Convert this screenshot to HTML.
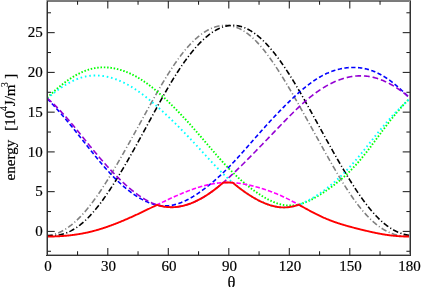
<!DOCTYPE html>
<html><head><meta charset="utf-8"><style>
html,body{margin:0;padding:0;background:#fff;width:421px;height:287px;overflow:hidden}
svg{display:block;will-change:transform}
text{font-family:"Liberation Serif",serif;font-size:15px;fill:#000;stroke:#000;stroke-width:0.2px}
</style></head><body>
<svg width="421" height="287" viewBox="0 0 421 287">
<defs><clipPath id="pa"><rect x="47.5" y="1.5" width="362.5" height="253.2"/></clipPath></defs>
<g clip-path="url(#pa)" stroke-linecap="butt" stroke-linejoin="round">
<path d="M47.20,235.84 L47.70,235.78 L48.21,235.71 L48.71,235.63 L49.22,235.55 L49.72,235.46 L50.23,235.37 L50.73,235.26 L51.23,235.15 L51.74,235.03 L52.24,234.91 L52.75,234.78 L53.25,234.64 L53.75,234.50 L54.26,234.34 L54.76,234.19 L55.27,234.02 L55.77,233.85 L56.28,233.67 L56.78,233.48 L57.28,233.28 L57.79,233.08 L58.29,232.88 L58.80,232.66 L59.30,232.44 L59.80,232.21 L60.31,231.97 L60.81,231.73 L61.32,231.48 L61.82,231.22 L62.33,230.95 L62.83,230.68 L63.33,230.40 L63.84,230.11 L64.34,229.82 L64.85,229.52 L65.35,229.21 L65.85,228.89 L66.36,228.57 L66.86,228.24 L67.37,227.90 L67.87,227.56 L68.38,227.20 L68.88,226.85 L69.38,226.48 L69.89,226.10 L70.39,225.72 L70.90,225.34 L71.40,224.94 L71.90,224.54 L72.41,224.13 L72.91,223.71 L73.42,223.29 L73.92,222.85 L74.43,222.42 L74.93,221.97 L75.43,221.52 L75.94,221.06 L76.44,220.59 L76.95,220.12 L77.45,219.64 L77.95,219.15 L78.46,218.65 L78.96,218.15 L79.47,217.64 L79.97,217.13 L80.48,216.61 L80.98,216.08 L81.48,215.54 L81.99,215.00 L82.49,214.45 L83.00,213.89 L83.50,213.33 L84.00,212.76 L84.51,212.19 L85.01,211.61 L85.52,211.02 L86.02,210.42 L86.53,209.82 L87.03,209.22 L87.53,208.60 L88.04,207.98 L88.54,207.36 L89.05,206.73 L89.55,206.09 L90.05,205.44 L90.56,204.80 L91.06,204.14 L91.57,203.48 L92.07,202.81 L92.58,202.14 L93.08,201.46 L93.58,200.78 L94.09,200.09 L94.59,199.40 L95.10,198.70 L95.60,198.00 L96.10,197.29 L96.61,196.57 L97.11,195.85 L97.62,195.13 L98.12,194.40 L98.63,193.67 L99.13,192.93 L99.63,192.19 L100.14,191.44 L100.64,190.69 L101.15,189.93 L101.65,189.17 L102.15,188.40 L102.66,187.63 L103.16,186.86 L103.67,186.08 L104.17,185.30 L104.68,184.52 L105.18,183.73 L105.68,182.93 L106.19,182.14 L106.69,181.34 L107.20,180.53 L107.70,179.72 L108.20,178.91 L108.71,178.10 L109.21,177.28 L109.72,176.46 L110.22,175.64 L110.73,174.81 L111.23,173.98 L111.73,173.15 L112.24,172.31 L112.74,171.47 L113.25,170.63 L113.75,169.78 L114.25,168.94 L114.76,168.09 L115.26,167.23 L115.77,166.38 L116.27,165.52 L116.78,164.66 L117.28,163.80 L117.78,162.93 L118.29,162.07 L118.79,161.20 L119.30,160.33 L119.80,159.45 L120.30,158.58 L120.81,157.70 L121.31,156.82 L121.82,155.94 L122.32,155.06 L122.83,154.17 L123.33,153.29 L123.83,152.40 L124.34,151.51 L124.84,150.62 L125.35,149.72 L125.85,148.83 L126.35,147.93 L126.86,147.04 L127.36,146.14 L127.87,145.24 L128.37,144.33 L128.88,143.43 L129.38,142.53 L129.88,141.62 L130.39,140.72 L130.89,139.81 L131.40,138.90 L131.90,137.99 L132.40,137.08 L132.91,136.17 L133.41,135.26 L133.92,134.35 L134.42,133.43 L134.93,132.52 L135.43,131.60 L135.93,130.69 L136.44,129.77 L136.94,128.86 L137.45,127.94 L137.95,127.02 L138.45,126.11 L138.96,125.19 L139.46,124.27 L139.97,123.35 L140.47,122.43 L140.98,121.52 L141.48,120.60 L141.98,119.68 L142.49,118.76 L142.99,117.84 L143.50,116.93 L144.00,116.01 L144.50,115.09 L145.01,114.18 L145.51,113.26 L146.02,112.35 L146.52,111.43 L147.03,110.52 L147.53,109.60 L148.03,108.69 L148.54,107.78 L149.04,106.87 L149.55,105.96 L150.05,105.05 L150.55,104.15 L151.06,103.24 L151.56,102.34 L152.07,101.44 L152.57,100.54 L153.08,99.64 L153.58,98.74 L154.08,97.85 L154.59,96.95 L155.09,96.06 L155.60,95.17 L156.10,94.29 L156.60,93.40 L157.11,92.52 L157.61,91.64 L158.12,90.76 L158.62,89.89 L159.13,89.02 L159.63,88.15 L160.13,87.28 L160.64,86.42 L161.14,85.56 L161.65,84.71 L162.15,83.85 L162.65,83.00 L163.16,82.16 L163.66,81.32 L164.17,80.48 L164.67,79.64 L165.18,78.81 L165.68,77.99 L166.18,77.16 L166.69,76.34 L167.19,75.53 L167.70,74.72 L168.20,73.92 L168.70,73.11 L169.21,72.32 L169.71,71.53 L170.22,70.74 L170.72,69.96 L171.23,69.18 L171.73,68.41 L172.23,67.64 L172.74,66.88 L173.24,66.13 L173.75,65.38 L174.25,64.63 L174.75,63.89 L175.26,63.16 L175.76,62.43 L176.27,61.71 L176.77,60.99 L177.28,60.28 L177.78,59.58 L178.28,58.88 L178.79,58.19 L179.29,57.50 L179.80,56.82 L180.30,56.15 L180.80,55.48 L181.31,54.82 L181.81,54.17 L182.32,53.52 L182.82,52.88 L183.33,52.25 L183.83,51.62 L184.33,51.00 L184.84,50.39 L185.34,49.78 L185.85,49.18 L186.35,48.59 L186.85,48.00 L187.36,47.42 L187.86,46.85 L188.37,46.29 L188.87,45.73 L189.38,45.18 L189.88,44.63 L190.38,44.10 L190.89,43.57 L191.39,43.05 L191.90,42.53 L192.40,42.03 L192.90,41.53 L193.41,41.03 L193.91,40.55 L194.42,40.07 L194.92,39.60 L195.43,39.14 L195.93,38.68 L196.43,38.24 L196.94,37.80 L197.44,37.36 L197.95,36.94 L198.45,36.52 L198.95,36.11 L199.46,35.71 L199.96,35.31 L200.47,34.92 L200.97,34.54 L201.48,34.17 L201.98,33.80 L202.48,33.45 L202.99,33.10 L203.49,32.76 L204.00,32.42 L204.50,32.09 L205.00,31.77 L205.51,31.46 L206.01,31.16 L206.52,30.86 L207.02,30.57 L207.53,30.29 L208.03,30.02 L208.53,29.75 L209.04,29.49 L209.54,29.24 L210.05,29.00 L210.55,28.76 L211.05,28.53 L211.56,28.31 L212.06,28.10 L212.57,27.90 L213.07,27.70 L213.58,27.51 L214.08,27.33 L214.58,27.15 L215.09,26.99 L215.59,26.83 L216.10,26.68 L216.60,26.54 L217.10,26.40 L217.61,26.28 L218.11,26.16 L218.62,26.05 L219.12,25.94 L219.63,25.85 L220.13,25.76 L220.63,25.68 L221.14,25.61 L221.64,25.55 L222.15,25.49 L222.65,25.45 L223.15,25.41 L223.66,25.38 L224.16,25.35 L224.67,25.34 L225.17,25.33 L225.68,25.34 L226.18,25.35 L226.68,25.36 L227.19,25.39 L227.69,25.43 L228.20,25.47 L228.70,25.52 L229.20,25.58 L229.71,25.65 L230.21,25.73 L230.72,25.81 L231.22,25.91 L231.73,26.01 L232.23,26.12 L232.73,26.24 L233.24,26.37 L233.74,26.50 L234.25,26.65 L234.75,26.80 L235.25,26.96 L235.76,27.13 L236.26,27.31 L236.77,27.50 L237.27,27.70 L237.78,27.90 L238.28,28.12 L238.78,28.34 L239.29,28.57 L239.79,28.81 L240.30,29.06 L240.80,29.32 L241.30,29.59 L241.81,29.86 L242.31,30.15 L242.82,30.44 L243.32,30.74 L243.83,31.05 L244.33,31.37 L244.83,31.69 L245.34,32.03 L245.84,32.38 L246.35,32.73 L246.85,33.09 L247.35,33.46 L247.86,33.84 L248.36,34.23 L248.87,34.62 L249.37,35.03 L249.88,35.44 L250.38,35.86 L250.88,36.29 L251.39,36.73 L251.89,37.17 L252.40,37.63 L252.90,38.09 L253.40,38.56 L253.91,39.04 L254.41,39.53 L254.92,40.02 L255.42,40.53 L255.93,41.04 L256.43,41.55 L256.93,42.08 L257.44,42.61 L257.94,43.16 L258.45,43.71 L258.95,44.26 L259.45,44.83 L259.96,45.40 L260.46,45.98 L260.97,46.56 L261.47,47.16 L261.98,47.76 L262.48,48.36 L262.98,48.98 L263.49,49.60 L263.99,50.23 L264.50,50.86 L265.00,51.50 L265.50,52.15 L266.01,52.80 L266.51,53.46 L267.02,54.13 L267.52,54.80 L268.03,55.48 L268.53,56.16 L269.03,56.85 L269.54,57.55 L270.04,58.25 L270.55,58.96 L271.05,59.67 L271.55,60.39 L272.06,61.11 L272.56,61.84 L273.07,62.57 L273.57,63.31 L274.08,64.06 L274.58,64.81 L275.08,65.56 L275.59,66.32 L276.09,67.08 L276.60,67.85 L277.10,68.62 L277.60,69.39 L278.11,70.17 L278.61,70.96 L279.12,71.75 L279.62,72.54 L280.13,73.34 L280.63,74.14 L281.13,74.94 L281.64,75.75 L282.14,76.56 L282.65,77.37 L283.15,78.19 L283.65,79.01 L284.16,79.83 L284.66,80.66 L285.17,81.49 L285.67,82.32 L286.18,83.16 L286.68,84.00 L287.18,84.84 L287.69,85.69 L288.19,86.53 L288.70,87.38 L289.20,88.24 L289.70,89.09 L290.21,89.95 L290.71,90.81 L291.22,91.67 L291.72,92.53 L292.23,93.40 L292.73,94.27 L293.23,95.14 L293.74,96.01 L294.24,96.88 L294.75,97.76 L295.25,98.64 L295.75,99.52 L296.26,100.40 L296.76,101.28 L297.27,102.16 L297.77,103.05 L298.28,103.94 L298.78,104.83 L299.28,105.72 L299.79,106.61 L300.29,107.50 L300.80,108.39 L301.30,109.29 L301.80,110.19 L302.31,111.08 L302.81,111.98 L303.32,112.88 L303.82,113.78 L304.33,114.69 L304.83,115.59 L305.33,116.49 L305.84,117.40 L306.34,118.30 L306.85,119.21 L307.35,120.12 L307.85,121.02 L308.36,121.93 L308.86,122.84 L309.37,123.75 L309.87,124.66 L310.38,125.57 L310.88,126.48 L311.38,127.39 L311.89,128.31 L312.39,129.22 L312.90,130.13 L313.40,131.04 L313.90,131.96 L314.41,132.87 L314.91,133.78 L315.42,134.69 L315.92,135.61 L316.43,136.52 L316.93,137.43 L317.43,138.35 L317.94,139.26 L318.44,140.17 L318.95,141.08 L319.45,141.99 L319.95,142.91 L320.46,143.82 L320.96,144.73 L321.47,145.64 L321.97,146.54 L322.48,147.45 L322.98,148.36 L323.48,149.27 L323.99,150.17 L324.49,151.07 L325.00,151.98 L325.50,152.88 L326.00,153.78 L326.51,154.68 L327.01,155.58 L327.52,156.48 L328.02,157.37 L328.53,158.27 L329.03,159.16 L329.53,160.05 L330.04,160.94 L330.54,161.82 L331.05,162.71 L331.55,163.59 L332.05,164.47 L332.56,165.35 L333.06,166.23 L333.57,167.10 L334.07,167.97 L334.58,168.84 L335.08,169.71 L335.58,170.57 L336.09,171.43 L336.59,172.29 L337.10,173.15 L337.60,174.00 L338.10,174.85 L338.61,175.69 L339.11,176.54 L339.62,177.38 L340.12,178.21 L340.63,179.04 L341.13,179.87 L341.63,180.70 L342.14,181.52 L342.64,182.33 L343.15,183.15 L343.65,183.96 L344.15,184.76 L344.66,185.56 L345.16,186.36 L345.67,187.15 L346.17,187.94 L346.68,188.72 L347.18,189.50 L347.68,190.27 L348.19,191.04 L348.69,191.81 L349.20,192.56 L349.70,193.32 L350.20,194.07 L350.71,194.81 L351.21,195.55 L351.72,196.28 L352.22,197.01 L352.73,197.73 L353.23,198.44 L353.73,199.16 L354.24,199.86 L354.74,200.56 L355.25,201.25 L355.75,201.94 L356.25,202.62 L356.76,203.30 L357.26,203.96 L357.77,204.63 L358.27,205.28 L358.78,205.93 L359.28,206.58 L359.78,207.22 L360.29,207.85 L360.79,208.47 L361.30,209.09 L361.80,209.70 L362.30,210.31 L362.81,210.91 L363.31,211.50 L363.82,212.08 L364.32,212.66 L364.83,213.23 L365.33,213.80 L365.83,214.36 L366.34,214.91 L366.84,215.45 L367.35,215.99 L367.85,216.52 L368.35,217.04 L368.86,217.56 L369.36,218.06 L369.87,218.57 L370.37,219.06 L370.88,219.55 L371.38,220.03 L371.88,220.50 L372.39,220.97 L372.89,221.43 L373.40,221.88 L373.90,222.32 L374.40,222.76 L374.91,223.19 L375.41,223.61 L375.92,224.03 L376.42,224.44 L376.93,224.84 L377.43,225.23 L377.93,225.62 L378.44,226.00 L378.94,226.37 L379.45,226.74 L379.95,227.10 L380.45,227.45 L380.96,227.79 L381.46,228.13 L381.97,228.46 L382.47,228.78 L382.98,229.10 L383.48,229.41 L383.98,229.71 L384.49,230.00 L384.99,230.29 L385.50,230.57 L386.00,230.84 L386.50,231.11 L387.01,231.37 L387.51,231.62 L388.02,231.86 L388.52,232.10 L389.03,232.33 L389.53,232.55 L390.03,232.77 L390.54,232.98 L391.04,233.18 L391.55,233.38 L392.05,233.57 L392.55,233.75 L393.06,233.93 L393.56,234.09 L394.07,234.26 L394.57,234.41 L395.08,234.56 L395.58,234.70 L396.08,234.83 L396.59,234.96 L397.09,235.08 L397.60,235.20 L398.10,235.30 L398.60,235.40 L399.11,235.50 L399.61,235.58 L400.12,235.66 L400.62,235.74 L401.13,235.80 L401.63,235.86 L402.13,235.91 L402.64,235.96 L403.14,236.00 L403.65,236.03 L404.15,236.06 L404.65,236.08 L405.16,236.09 L405.66,236.10 L406.17,236.09 L406.67,236.09 L407.18,236.07 L407.68,236.05 L408.18,236.02 L408.69,235.99 L409.19,235.95 L409.70,235.90 L410.20,235.84" stroke="#808080" stroke-width="1.6" stroke-dasharray="5.6 2.4 1.1 2.3" fill="none"/>
<path d="M47.20,235.41 L47.70,235.47 L48.21,235.52 L48.71,235.56 L49.22,235.59 L49.72,235.62 L50.23,235.64 L50.73,235.65 L51.23,235.66 L51.74,235.67 L52.24,235.66 L52.75,235.65 L53.25,235.63 L53.75,235.61 L54.26,235.58 L54.76,235.55 L55.27,235.50 L55.77,235.46 L56.28,235.40 L56.78,235.34 L57.28,235.27 L57.79,235.20 L58.29,235.11 L58.80,235.03 L59.30,234.93 L59.80,234.83 L60.31,234.72 L60.81,234.61 L61.32,234.49 L61.82,234.36 L62.33,234.22 L62.83,234.08 L63.33,233.93 L63.84,233.78 L64.34,233.62 L64.85,233.45 L65.35,233.27 L65.85,233.09 L66.36,232.90 L66.86,232.70 L67.37,232.50 L67.87,232.29 L68.38,232.07 L68.88,231.84 L69.38,231.61 L69.89,231.37 L70.39,231.12 L70.90,230.87 L71.40,230.61 L71.90,230.34 L72.41,230.06 L72.91,229.78 L73.42,229.48 L73.92,229.18 L74.43,228.88 L74.93,228.56 L75.43,228.24 L75.94,227.91 L76.44,227.58 L76.95,227.23 L77.45,226.88 L77.95,226.52 L78.46,226.16 L78.96,225.78 L79.47,225.40 L79.97,225.01 L80.48,224.62 L80.98,224.21 L81.48,223.80 L81.99,223.38 L82.49,222.96 L83.00,222.52 L83.50,222.08 L84.00,221.63 L84.51,221.17 L85.01,220.71 L85.52,220.24 L86.02,219.76 L86.53,219.28 L87.03,218.78 L87.53,218.28 L88.04,217.78 L88.54,217.26 L89.05,216.74 L89.55,216.21 L90.05,215.67 L90.56,215.13 L91.06,214.58 L91.57,214.03 L92.07,213.46 L92.58,212.89 L93.08,212.32 L93.58,211.73 L94.09,211.14 L94.59,210.55 L95.10,209.94 L95.60,209.33 L96.10,208.72 L96.61,208.10 L97.11,207.47 L97.62,206.83 L98.12,206.19 L98.63,205.55 L99.13,204.89 L99.63,204.24 L100.14,203.57 L100.64,202.90 L101.15,202.23 L101.65,201.55 L102.15,200.86 L102.66,200.17 L103.16,199.47 L103.67,198.77 L104.17,198.06 L104.68,197.35 L105.18,196.63 L105.68,195.91 L106.19,195.18 L106.69,194.45 L107.20,193.71 L107.70,192.97 L108.20,192.23 L108.71,191.48 L109.21,190.72 L109.72,189.96 L110.22,189.20 L110.73,188.43 L111.23,187.66 L111.73,186.88 L112.24,186.10 L112.74,185.32 L113.25,184.53 L113.75,183.74 L114.25,182.94 L114.76,182.14 L115.26,181.34 L115.77,180.53 L116.27,179.72 L116.78,178.91 L117.28,178.09 L117.78,177.27 L118.29,176.44 L118.79,175.62 L119.30,174.79 L119.80,173.95 L120.30,173.12 L120.81,172.28 L121.31,171.43 L121.82,170.59 L122.32,169.74 L122.83,168.89 L123.33,168.03 L123.83,167.18 L124.34,166.32 L124.84,165.45 L125.35,164.59 L125.85,163.72 L126.35,162.85 L126.86,161.98 L127.36,161.10 L127.87,160.23 L128.37,159.35 L128.88,158.46 L129.38,157.58 L129.88,156.69 L130.39,155.81 L130.89,154.91 L131.40,154.02 L131.90,153.13 L132.40,152.23 L132.91,151.33 L133.41,150.43 L133.92,149.53 L134.42,148.62 L134.93,147.72 L135.43,146.81 L135.93,145.90 L136.44,144.99 L136.94,144.08 L137.45,143.16 L137.95,142.25 L138.45,141.33 L138.96,140.41 L139.46,139.49 L139.97,138.57 L140.47,137.65 L140.98,136.73 L141.48,135.80 L141.98,134.88 L142.49,133.95 L142.99,133.03 L143.50,132.10 L144.00,131.17 L144.50,130.24 L145.01,129.31 L145.51,128.38 L146.02,127.45 L146.52,126.52 L147.03,125.59 L147.53,124.66 L148.03,123.73 L148.54,122.80 L149.04,121.87 L149.55,120.94 L150.05,120.00 L150.55,119.07 L151.06,118.14 L151.56,117.21 L152.07,116.29 L152.57,115.36 L153.08,114.43 L153.58,113.50 L154.08,112.58 L154.59,111.65 L155.09,110.73 L155.60,109.80 L156.10,108.88 L156.60,107.96 L157.11,107.04 L157.61,106.13 L158.12,105.21 L158.62,104.30 L159.13,103.39 L159.63,102.47 L160.13,101.57 L160.64,100.66 L161.14,99.76 L161.65,98.86 L162.15,97.96 L162.65,97.06 L163.16,96.16 L163.66,95.27 L164.17,94.38 L164.67,93.50 L165.18,92.62 L165.68,91.74 L166.18,90.86 L166.69,89.98 L167.19,89.11 L167.70,88.25 L168.20,87.38 L168.70,86.52 L169.21,85.67 L169.71,84.81 L170.22,83.96 L170.72,83.12 L171.23,82.28 L171.73,81.44 L172.23,80.61 L172.74,79.78 L173.24,78.95 L173.75,78.13 L174.25,77.32 L174.75,76.51 L175.26,75.70 L175.76,74.90 L176.27,74.10 L176.77,73.31 L177.28,72.52 L177.78,71.74 L178.28,70.96 L178.79,70.19 L179.29,69.42 L179.80,68.65 L180.30,67.90 L180.80,67.14 L181.31,66.40 L181.81,65.66 L182.32,64.92 L182.82,64.19 L183.33,63.46 L183.83,62.74 L184.33,62.03 L184.84,61.32 L185.34,60.62 L185.85,59.92 L186.35,59.23 L186.85,58.54 L187.36,57.86 L187.86,57.19 L188.37,56.52 L188.87,55.86 L189.38,55.20 L189.88,54.55 L190.38,53.91 L190.89,53.27 L191.39,52.64 L191.90,52.02 L192.40,51.40 L192.90,50.79 L193.41,50.18 L193.91,49.58 L194.42,48.99 L194.92,48.40 L195.43,47.82 L195.93,47.25 L196.43,46.68 L196.94,46.12 L197.44,45.57 L197.95,45.02 L198.45,44.48 L198.95,43.94 L199.46,43.42 L199.96,42.90 L200.47,42.38 L200.97,41.88 L201.48,41.38 L201.98,40.88 L202.48,40.40 L202.99,39.92 L203.49,39.45 L204.00,38.98 L204.50,38.53 L205.00,38.07 L205.51,37.63 L206.01,37.20 L206.52,36.77 L207.02,36.35 L207.53,35.93 L208.03,35.53 L208.53,35.13 L209.04,34.73 L209.54,34.35 L210.05,33.97 L210.55,33.60 L211.05,33.24 L211.56,32.89 L212.06,32.54 L212.57,32.20 L213.07,31.87 L213.58,31.55 L214.08,31.23 L214.58,30.93 L215.09,30.63 L215.59,30.34 L216.10,30.05 L216.60,29.78 L217.10,29.51 L217.61,29.25 L218.11,29.00 L218.62,28.75 L219.12,28.52 L219.63,28.29 L220.13,28.07 L220.63,27.86 L221.14,27.66 L221.64,27.47 L222.15,27.28 L222.65,27.11 L223.15,26.94 L223.66,26.78 L224.16,26.63 L224.67,26.48 L225.17,26.35 L225.68,26.22 L226.18,26.10 L226.68,26.00 L227.19,25.90 L227.69,25.80 L228.20,25.72 L228.70,25.65 L229.20,25.58 L229.71,25.52 L230.21,25.48 L230.72,25.44 L231.22,25.40 L231.73,25.38 L232.23,25.37 L232.73,25.36 L233.24,25.37 L233.74,25.38 L234.25,25.40 L234.75,25.43 L235.25,25.47 L235.76,25.52 L236.26,25.58 L236.77,25.64 L237.27,25.71 L237.78,25.80 L238.28,25.89 L238.78,25.99 L239.29,26.10 L239.79,26.21 L240.30,26.34 L240.80,26.47 L241.30,26.62 L241.81,26.77 L242.31,26.93 L242.82,27.10 L243.32,27.27 L243.83,27.46 L244.33,27.65 L244.83,27.86 L245.34,28.07 L245.84,28.29 L246.35,28.51 L246.85,28.75 L247.35,28.99 L247.86,29.25 L248.36,29.51 L248.87,29.78 L249.37,30.05 L249.88,30.34 L250.38,30.63 L250.88,30.93 L251.39,31.24 L251.89,31.56 L252.40,31.89 L252.90,32.22 L253.40,32.56 L253.91,32.91 L254.41,33.27 L254.92,33.63 L255.42,34.00 L255.93,34.38 L256.43,34.77 L256.93,35.17 L257.44,35.57 L257.94,35.98 L258.45,36.40 L258.95,36.82 L259.45,37.26 L259.96,37.70 L260.46,38.14 L260.97,38.60 L261.47,39.06 L261.98,39.53 L262.48,40.00 L262.98,40.49 L263.49,40.98 L263.99,41.47 L264.50,41.98 L265.00,42.49 L265.50,43.01 L266.01,43.53 L266.51,44.06 L267.02,44.60 L267.52,45.15 L268.03,45.70 L268.53,46.26 L269.03,46.82 L269.54,47.40 L270.04,47.97 L270.55,48.56 L271.05,49.15 L271.55,49.75 L272.06,50.35 L272.56,50.96 L273.07,51.58 L273.57,52.20 L274.08,52.83 L274.58,53.46 L275.08,54.10 L275.59,54.75 L276.09,55.40 L276.60,56.06 L277.10,56.72 L277.60,57.40 L278.11,58.07 L278.61,58.75 L279.12,59.44 L279.62,60.13 L280.13,60.83 L280.63,61.54 L281.13,62.25 L281.64,62.96 L282.14,63.68 L282.65,64.41 L283.15,65.14 L283.65,65.87 L284.16,66.62 L284.66,67.36 L285.17,68.11 L285.67,68.87 L286.18,69.63 L286.68,70.40 L287.18,71.17 L287.69,71.94 L288.19,72.72 L288.70,73.51 L289.20,74.30 L289.70,75.09 L290.21,75.89 L290.71,76.69 L291.22,77.50 L291.72,78.31 L292.23,79.12 L292.73,79.94 L293.23,80.76 L293.74,81.59 L294.24,82.42 L294.75,83.25 L295.25,84.09 L295.75,84.93 L296.26,85.77 L296.76,86.62 L297.27,87.47 L297.77,88.33 L298.28,89.19 L298.78,90.05 L299.28,90.91 L299.79,91.78 L300.29,92.65 L300.80,93.52 L301.30,94.39 L301.80,95.27 L302.31,96.15 L302.81,97.03 L303.32,97.92 L303.82,98.80 L304.33,99.69 L304.83,100.59 L305.33,101.48 L305.84,102.37 L306.34,103.27 L306.85,104.17 L307.35,105.07 L307.85,105.97 L308.36,106.88 L308.86,107.78 L309.37,108.69 L309.87,109.59 L310.38,110.50 L310.88,111.41 L311.38,112.32 L311.89,113.24 L312.39,114.15 L312.90,115.06 L313.40,115.98 L313.90,116.89 L314.41,117.81 L314.91,118.72 L315.42,119.64 L315.92,120.56 L316.43,121.47 L316.93,122.39 L317.43,123.31 L317.94,124.23 L318.44,125.15 L318.95,126.06 L319.45,126.98 L319.95,127.90 L320.46,128.82 L320.96,129.73 L321.47,130.65 L321.97,131.57 L322.48,132.48 L322.98,133.40 L323.48,134.31 L323.99,135.23 L324.49,136.14 L325.00,137.05 L325.50,137.97 L326.00,138.88 L326.51,139.79 L327.01,140.70 L327.52,141.60 L328.02,142.51 L328.53,143.42 L329.03,144.32 L329.53,145.23 L330.04,146.13 L330.54,147.03 L331.05,147.93 L331.55,148.83 L332.05,149.73 L332.56,150.62 L333.06,151.52 L333.57,152.41 L334.07,153.30 L334.58,154.19 L335.08,155.08 L335.58,155.96 L336.09,156.85 L336.59,157.73 L337.10,158.61 L337.60,159.49 L338.10,160.36 L338.61,161.24 L339.11,162.11 L339.62,162.98 L340.12,163.85 L340.63,164.71 L341.13,165.57 L341.63,166.44 L342.14,167.29 L342.64,168.15 L343.15,169.00 L343.65,169.85 L344.15,170.70 L344.66,171.55 L345.16,172.39 L345.67,173.23 L346.17,174.07 L346.68,174.90 L347.18,175.73 L347.68,176.56 L348.19,177.38 L348.69,178.20 L349.20,179.02 L349.70,179.84 L350.20,180.65 L350.71,181.46 L351.21,182.26 L351.72,183.06 L352.22,183.86 L352.73,184.65 L353.23,185.44 L353.73,186.22 L354.24,187.01 L354.74,187.78 L355.25,188.56 L355.75,189.33 L356.25,190.09 L356.76,190.85 L357.26,191.61 L357.77,192.36 L358.27,193.10 L358.78,193.85 L359.28,194.58 L359.78,195.32 L360.29,196.04 L360.79,196.77 L361.30,197.48 L361.80,198.19 L362.30,198.90 L362.81,199.60 L363.31,200.30 L363.82,200.99 L364.32,201.67 L364.83,202.35 L365.33,203.03 L365.83,203.70 L366.34,204.36 L366.84,205.01 L367.35,205.66 L367.85,206.31 L368.35,206.95 L368.86,207.58 L369.36,208.20 L369.87,208.82 L370.37,209.43 L370.88,210.04 L371.38,210.64 L371.88,211.23 L372.39,211.82 L372.89,212.40 L373.40,212.97 L373.90,213.54 L374.40,214.09 L374.91,214.65 L375.41,215.19 L375.92,215.73 L376.42,216.26 L376.93,216.79 L377.43,217.30 L377.93,217.81 L378.44,218.31 L378.94,218.81 L379.45,219.30 L379.95,219.78 L380.45,220.25 L380.96,220.72 L381.46,221.18 L381.97,221.63 L382.47,222.07 L382.98,222.51 L383.48,222.94 L383.98,223.36 L384.49,223.77 L384.99,224.18 L385.50,224.58 L386.00,224.97 L386.50,225.36 L387.01,225.73 L387.51,226.10 L388.02,226.46 L388.52,226.82 L389.03,227.17 L389.53,227.51 L390.03,227.84 L390.54,228.17 L391.04,228.48 L391.55,228.79 L392.05,229.10 L392.55,229.39 L393.06,229.68 L393.56,229.97 L394.07,230.24 L394.57,230.51 L395.08,230.77 L395.58,231.02 L396.08,231.27 L396.59,231.51 L397.09,231.74 L397.60,231.97 L398.10,232.18 L398.60,232.40 L399.11,232.60 L399.61,232.80 L400.12,232.99 L400.62,233.17 L401.13,233.35 L401.63,233.52 L402.13,233.68 L402.64,233.84 L403.14,233.99 L403.65,234.14 L404.15,234.27 L404.65,234.40 L405.16,234.53 L405.66,234.65 L406.17,234.76 L406.67,234.86 L407.18,234.96 L407.68,235.05 L408.18,235.14 L408.69,235.22 L409.19,235.29 L409.70,235.36 L410.20,235.41" stroke="#000" stroke-width="1.6" stroke-dasharray="5.6 2.4 1.1 2.3" fill="none"/>
<path d="M47.20,97.83 L47.70,97.33 L48.21,96.83 L48.71,96.34 L49.22,95.85 L49.72,95.37 L50.23,94.89 L50.73,94.41 L51.23,93.93 L51.74,93.46 L52.24,93.00 L52.75,92.53 L53.25,92.07 L53.75,91.62 L54.26,91.16 L54.76,90.72 L55.27,90.27 L55.77,89.83 L56.28,89.39 L56.78,88.95 L57.28,88.52 L57.79,88.09 L58.29,87.67 L58.80,87.25 L59.30,86.83 L59.80,86.41 L60.31,86.00 L60.81,85.60 L61.32,85.19 L61.82,84.79 L62.33,84.40 L62.83,84.00 L63.33,83.62 L63.84,83.23 L64.34,82.85 L64.85,82.47 L65.35,82.10 L65.85,81.73 L66.36,81.36 L66.86,81.00 L67.37,80.64 L67.87,80.28 L68.38,79.93 L68.88,79.59 L69.38,79.25 L69.89,78.91 L70.39,78.57 L70.90,78.24 L71.40,77.92 L71.90,77.60 L72.41,77.28 L72.91,76.97 L73.42,76.66 L73.92,76.35 L74.43,76.05 L74.93,75.76 L75.43,75.47 L75.94,75.18 L76.44,74.90 L76.95,74.63 L77.45,74.35 L77.95,74.09 L78.46,73.82 L78.96,73.57 L79.47,73.32 L79.97,73.07 L80.48,72.83 L80.98,72.59 L81.48,72.36 L81.99,72.13 L82.49,71.91 L83.00,71.69 L83.50,71.48 L84.00,71.27 L84.51,71.07 L85.01,70.87 L85.52,70.68 L86.02,70.50 L86.53,70.32 L87.03,70.14 L87.53,69.97 L88.04,69.81 L88.54,69.65 L89.05,69.50 L89.55,69.35 L90.05,69.20 L90.56,69.07 L91.06,68.93 L91.57,68.81 L92.07,68.69 L92.58,68.57 L93.08,68.46 L93.58,68.35 L94.09,68.25 L94.59,68.16 L95.10,68.07 L95.60,67.98 L96.10,67.91 L96.61,67.83 L97.11,67.76 L97.62,67.70 L98.12,67.64 L98.63,67.59 L99.13,67.54 L99.63,67.50 L100.14,67.46 L100.64,67.43 L101.15,67.40 L101.65,67.38 L102.15,67.36 L102.66,67.35 L103.16,67.34 L103.67,67.34 L104.17,67.34 L104.68,67.35 L105.18,67.36 L105.68,67.38 L106.19,67.40 L106.69,67.43 L107.20,67.46 L107.70,67.50 L108.20,67.54 L108.71,67.58 L109.21,67.63 L109.72,67.69 L110.22,67.75 L110.73,67.81 L111.23,67.88 L111.73,67.95 L112.24,68.03 L112.74,68.11 L113.25,68.20 L113.75,68.29 L114.25,68.38 L114.76,68.48 L115.26,68.59 L115.77,68.70 L116.27,68.81 L116.78,68.93 L117.28,69.05 L117.78,69.17 L118.29,69.30 L118.79,69.44 L119.30,69.57 L119.80,69.72 L120.30,69.86 L120.81,70.01 L121.31,70.17 L121.82,70.33 L122.32,70.49 L122.83,70.66 L123.33,70.83 L123.83,71.00 L124.34,71.18 L124.84,71.37 L125.35,71.56 L125.85,71.75 L126.35,71.95 L126.86,72.15 L127.36,72.35 L127.87,72.56 L128.37,72.77 L128.88,72.99 L129.38,73.21 L129.88,73.44 L130.39,73.67 L130.89,73.90 L131.40,74.14 L131.90,74.38 L132.40,74.63 L132.91,74.88 L133.41,75.13 L133.92,75.39 L134.42,75.65 L134.93,75.92 L135.43,76.19 L135.93,76.46 L136.44,76.74 L136.94,77.03 L137.45,77.31 L137.95,77.61 L138.45,77.90 L138.96,78.20 L139.46,78.50 L139.97,78.81 L140.47,79.12 L140.98,79.44 L141.48,79.76 L141.98,80.08 L142.49,80.41 L142.99,80.74 L143.50,81.07 L144.00,81.41 L144.50,81.76 L145.01,82.10 L145.51,82.45 L146.02,82.81 L146.52,83.17 L147.03,83.53 L147.53,83.89 L148.03,84.26 L148.54,84.64 L149.04,85.01 L149.55,85.39 L150.05,85.78 L150.55,86.16 L151.06,86.55 L151.56,86.95 L152.07,87.34 L152.57,87.74 L153.08,88.15 L153.58,88.56 L154.08,88.97 L154.59,89.38 L155.09,89.80 L155.60,90.22 L156.10,90.64 L156.60,91.07 L157.11,91.49 L157.61,91.93 L158.12,92.36 L158.62,92.80 L159.13,93.24 L159.63,93.68 L160.13,94.13 L160.64,94.58 L161.14,95.03 L161.65,95.48 L162.15,95.94 L162.65,96.40 L163.16,96.86 L163.66,97.32 L164.17,97.79 L164.67,98.26 L165.18,98.73 L165.68,99.20 L166.18,99.68 L166.69,100.16 L167.19,100.64 L167.70,101.12 L168.20,101.60 L168.70,102.09 L169.21,102.58 L169.71,103.07 L170.22,103.56 L170.72,104.06 L171.23,104.55 L171.73,105.05 L172.23,105.55 L172.74,106.06 L173.24,106.56 L173.75,107.07 L174.25,107.58 L174.75,108.09 L175.26,108.60 L175.76,109.11 L176.27,109.63 L176.77,110.15 L177.28,110.66 L177.78,111.19 L178.28,111.71 L178.79,112.23 L179.29,112.76 L179.80,113.29 L180.30,113.82 L180.80,114.35 L181.31,114.88 L181.81,115.42 L182.32,115.95 L182.82,116.49 L183.33,117.03 L183.83,117.57 L184.33,118.11 L184.84,118.66 L185.34,119.21 L185.85,119.75 L186.35,120.30 L186.85,120.85 L187.36,121.41 L187.86,121.96 L188.37,122.52 L188.87,123.07 L189.38,123.63 L189.88,124.19 L190.38,124.75 L190.89,125.32 L191.39,125.88 L191.90,126.45 L192.40,127.02 L192.90,127.59 L193.41,128.16 L193.91,128.73 L194.42,129.30 L194.92,129.88 L195.43,130.45 L195.93,131.03 L196.43,131.61 L196.94,132.18 L197.44,132.77 L197.95,133.35 L198.45,133.93 L198.95,134.51 L199.46,135.10 L199.96,135.68 L200.47,136.27 L200.97,136.85 L201.48,137.44 L201.98,138.03 L202.48,138.62 L202.99,139.21 L203.49,139.80 L204.00,140.39 L204.50,140.98 L205.00,141.57 L205.51,142.16 L206.01,142.75 L206.52,143.34 L207.02,143.94 L207.53,144.53 L208.03,145.12 L208.53,145.71 L209.04,146.30 L209.54,146.89 L210.05,147.48 L210.55,148.07 L211.05,148.66 L211.56,149.25 L212.06,149.84 L212.57,150.43 L213.07,151.01 L213.58,151.60 L214.08,152.18 L214.58,152.77 L215.09,153.35 L215.59,153.93 L216.10,154.51 L216.60,155.09 L217.10,155.66 L217.61,156.24 L218.11,156.81 L218.62,157.38 L219.12,157.95 L219.63,158.52 L220.13,159.09 L220.63,159.65 L221.14,160.21 L221.64,160.77 L222.15,161.33 L222.65,161.88 L223.15,162.44 L223.66,162.99 L224.16,163.53 L224.67,164.08 L225.17,164.62 L225.68,165.16 L226.18,165.70 L226.68,166.23 L227.19,166.77 L227.69,167.30 L228.20,167.82 L228.70,168.34 L229.20,168.87 L229.71,169.38 L230.21,169.90 L230.72,170.41 L231.22,170.92 L231.73,171.42 L232.23,171.92 L232.73,172.42 L233.24,172.92 L233.74,173.41 L234.25,173.90 L234.75,174.39 L235.25,174.87 L235.76,175.35 L236.26,175.83 L236.77,176.30 L237.27,176.77 L237.78,177.24 L238.28,177.70 L238.78,178.16 L239.29,178.62 L239.79,179.07 L240.30,179.52 L240.80,179.97 L241.30,180.41 L241.81,180.85 L242.31,181.29 L242.82,181.73 L243.32,182.16 L243.83,182.59 L244.33,183.01 L244.83,183.43 L245.34,183.85 L245.84,184.27 L246.35,184.68 L246.85,185.09 L247.35,185.50 L247.86,185.90 L248.36,186.30 L248.87,186.70 L249.37,187.09 L249.88,187.48 L250.38,187.87 L250.88,188.26 L251.39,188.64 L251.89,189.02 L252.40,189.39 L252.90,189.76 L253.40,190.13 L253.91,190.50 L254.41,190.86 L254.92,191.22 L255.42,191.58 L255.93,191.94 L256.43,192.29 L256.93,192.63 L257.44,192.98 L257.94,193.32 L258.45,193.66 L258.95,193.99 L259.45,194.32 L259.96,194.65 L260.46,194.98 L260.97,195.30 L261.47,195.61 L261.98,195.93 L262.48,196.24 L262.98,196.54 L263.49,196.85 L263.99,197.15 L264.50,197.44 L265.00,197.73 L265.50,198.02 L266.01,198.30 L266.51,198.58 L267.02,198.86 L267.52,199.13 L268.03,199.39 L268.53,199.65 L269.03,199.91 L269.54,200.16 L270.04,200.41 L270.55,200.65 L271.05,200.89 L271.55,201.13 L272.06,201.35 L272.56,201.58 L273.07,201.80 L273.57,202.01 L274.08,202.21 L274.58,202.42 L275.08,202.61 L275.59,202.80 L276.09,202.99 L276.60,203.17 L277.10,203.34 L277.60,203.51 L278.11,203.67 L278.61,203.82 L279.12,203.97 L279.62,204.12 L280.13,204.25 L280.63,204.38 L281.13,204.50 L281.64,204.62 L282.14,204.73 L282.65,204.84 L283.15,204.93 L283.65,205.02 L284.16,205.10 L284.66,205.18 L285.17,205.25 L285.67,205.31 L286.18,205.37 L286.68,205.42 L287.18,205.46 L287.69,205.49 L288.19,205.52 L288.70,205.54 L289.20,205.55 L289.70,205.56 L290.21,205.55 L290.71,205.55 L291.22,205.53 L291.72,205.51 L292.23,205.48 L292.73,205.44 L293.23,205.39 L293.74,205.34 L294.24,205.28 L294.75,205.22 L295.25,205.15 L295.75,205.07 L296.26,204.98 L296.76,204.89 L297.27,204.79 L297.77,204.68 L298.28,204.57 L298.78,204.45 L299.28,204.32 L299.79,204.19 L300.29,204.05 L300.80,203.90 L301.30,203.75 L301.80,203.59 L302.31,203.43 L302.81,203.26 L303.32,203.08 L303.82,202.90 L304.33,202.72 L304.83,202.52 L305.33,202.33 L305.84,202.12 L306.34,201.91 L306.85,201.70 L307.35,201.48 L307.85,201.26 L308.36,201.03 L308.86,200.80 L309.37,200.56 L309.87,200.32 L310.38,200.07 L310.88,199.82 L311.38,199.57 L311.89,199.31 L312.39,199.04 L312.90,198.78 L313.40,198.51 L313.90,198.23 L314.41,197.95 L314.91,197.67 L315.42,197.39 L315.92,197.10 L316.43,196.81 L316.93,196.51 L317.43,196.22 L317.94,195.92 L318.44,195.61 L318.95,195.31 L319.45,195.00 L319.95,194.68 L320.46,194.37 L320.96,194.05 L321.47,193.73 L321.97,193.41 L322.48,193.08 L322.98,192.76 L323.48,192.43 L323.99,192.09 L324.49,191.76 L325.00,191.42 L325.50,191.08 L326.00,190.74 L326.51,190.40 L327.01,190.05 L327.52,189.70 L328.02,189.35 L328.53,188.99 L329.03,188.64 L329.53,188.28 L330.04,187.92 L330.54,187.55 L331.05,187.19 L331.55,186.82 L332.05,186.45 L332.56,186.07 L333.06,185.70 L333.57,185.32 L334.07,184.94 L334.58,184.55 L335.08,184.16 L335.58,183.77 L336.09,183.38 L336.59,182.98 L337.10,182.58 L337.60,182.18 L338.10,181.77 L338.61,181.36 L339.11,180.95 L339.62,180.54 L340.12,180.12 L340.63,179.69 L341.13,179.27 L341.63,178.83 L342.14,178.40 L342.64,177.96 L343.15,177.52 L343.65,177.07 L344.15,176.62 L344.66,176.17 L345.16,175.71 L345.67,175.25 L346.17,174.78 L346.68,174.31 L347.18,173.83 L347.68,173.35 L348.19,172.87 L348.69,172.38 L349.20,171.88 L349.70,171.38 L350.20,170.88 L350.71,170.37 L351.21,169.86 L351.72,169.34 L352.22,168.82 L352.73,168.29 L353.23,167.76 L353.73,167.22 L354.24,166.68 L354.74,166.14 L355.25,165.59 L355.75,165.03 L356.25,164.47 L356.76,163.90 L357.26,163.33 L357.77,162.76 L358.27,162.18 L358.78,161.60 L359.28,161.01 L359.78,160.42 L360.29,159.82 L360.79,159.22 L361.30,158.61 L361.80,158.00 L362.30,157.39 L362.81,156.77 L363.31,156.15 L363.82,155.52 L364.32,154.89 L364.83,154.26 L365.33,153.63 L365.83,152.99 L366.34,152.34 L366.84,151.70 L367.35,151.05 L367.85,150.39 L368.35,149.74 L368.86,149.08 L369.36,148.42 L369.87,147.75 L370.37,147.09 L370.88,146.42 L371.38,145.75 L371.88,145.08 L372.39,144.41 L372.89,143.73 L373.40,143.05 L373.90,142.38 L374.40,141.70 L374.91,141.02 L375.41,140.33 L375.92,139.65 L376.42,138.97 L376.93,138.29 L377.43,137.60 L377.93,136.92 L378.44,136.24 L378.94,135.56 L379.45,134.87 L379.95,134.19 L380.45,133.51 L380.96,132.83 L381.46,132.15 L381.97,131.47 L382.47,130.79 L382.98,130.11 L383.48,129.44 L383.98,128.76 L384.49,128.09 L384.99,127.42 L385.50,126.75 L386.00,126.09 L386.50,125.42 L387.01,124.76 L387.51,124.10 L388.02,123.44 L388.52,122.79 L389.03,122.14 L389.53,121.49 L390.03,120.84 L390.54,120.20 L391.04,119.55 L391.55,118.92 L392.05,118.28 L392.55,117.65 L393.06,117.02 L393.56,116.40 L394.07,115.78 L394.57,115.16 L395.08,114.54 L395.58,113.93 L396.08,113.32 L396.59,112.72 L397.09,112.12 L397.60,111.52 L398.10,110.93 L398.60,110.34 L399.11,109.76 L399.61,109.17 L400.12,108.59 L400.62,108.02 L401.13,107.45 L401.63,106.88 L402.13,106.32 L402.64,105.76 L403.14,105.21 L403.65,104.65 L404.15,104.11 L404.65,103.56 L405.16,103.02 L405.66,102.49 L406.17,101.95 L406.67,101.42 L407.18,100.90 L407.68,100.38 L408.18,99.86 L408.69,99.35 L409.19,98.84 L409.70,98.33 L410.20,97.83" stroke="#00ff00" stroke-width="1.9" stroke-dasharray="1.5 1.8" fill="none"/>
<path d="M47.20,98.49 L47.70,98.05 L48.21,97.62 L48.71,97.19 L49.22,96.76 L49.72,96.34 L50.23,95.92 L50.73,95.50 L51.23,95.08 L51.74,94.67 L52.24,94.27 L52.75,93.86 L53.25,93.46 L53.75,93.06 L54.26,92.67 L54.76,92.28 L55.27,91.89 L55.77,91.51 L56.28,91.13 L56.78,90.75 L57.28,90.38 L57.79,90.01 L58.29,89.65 L58.80,89.28 L59.30,88.93 L59.80,88.57 L60.31,88.22 L60.81,87.87 L61.32,87.53 L61.82,87.19 L62.33,86.86 L62.83,86.53 L63.33,86.20 L63.84,85.88 L64.34,85.56 L64.85,85.25 L65.35,84.94 L65.85,84.63 L66.36,84.33 L66.86,84.04 L67.37,83.74 L67.87,83.46 L68.38,83.18 L68.88,82.90 L69.38,82.62 L69.89,82.36 L70.39,82.09 L70.90,81.83 L71.40,81.58 L71.90,81.33 L72.41,81.08 L72.91,80.84 L73.42,80.61 L73.92,80.38 L74.43,80.16 L74.93,79.94 L75.43,79.72 L75.94,79.51 L76.44,79.31 L76.95,79.11 L77.45,78.92 L77.95,78.73 L78.46,78.55 L78.96,78.37 L79.47,78.20 L79.97,78.03 L80.48,77.87 L80.98,77.71 L81.48,77.56 L81.99,77.41 L82.49,77.27 L83.00,77.14 L83.50,77.01 L84.00,76.88 L84.51,76.76 L85.01,76.65 L85.52,76.54 L86.02,76.44 L86.53,76.34 L87.03,76.25 L87.53,76.16 L88.04,76.08 L88.54,76.01 L89.05,75.94 L89.55,75.87 L90.05,75.81 L90.56,75.76 L91.06,75.71 L91.57,75.66 L92.07,75.62 L92.58,75.59 L93.08,75.56 L93.58,75.54 L94.09,75.52 L94.59,75.51 L95.10,75.50 L95.60,75.49 L96.10,75.50 L96.61,75.50 L97.11,75.52 L97.62,75.53 L98.12,75.55 L98.63,75.58 L99.13,75.61 L99.63,75.65 L100.14,75.69 L100.64,75.74 L101.15,75.79 L101.65,75.84 L102.15,75.90 L102.66,75.97 L103.16,76.04 L103.67,76.11 L104.17,76.19 L104.68,76.27 L105.18,76.36 L105.68,76.45 L106.19,76.55 L106.69,76.65 L107.20,76.76 L107.70,76.87 L108.20,76.98 L108.71,77.10 L109.21,77.23 L109.72,77.35 L110.22,77.49 L110.73,77.62 L111.23,77.76 L111.73,77.91 L112.24,78.06 L112.74,78.21 L113.25,78.37 L113.75,78.53 L114.25,78.70 L114.76,78.87 L115.26,79.05 L115.77,79.23 L116.27,79.41 L116.78,79.60 L117.28,79.79 L117.78,79.99 L118.29,80.19 L118.79,80.39 L119.30,80.60 L119.80,80.81 L120.30,81.03 L120.81,81.25 L121.31,81.47 L121.82,81.70 L122.32,81.93 L122.83,82.17 L123.33,82.41 L123.83,82.66 L124.34,82.90 L124.84,83.16 L125.35,83.41 L125.85,83.67 L126.35,83.94 L126.86,84.21 L127.36,84.48 L127.87,84.76 L128.37,85.04 L128.88,85.32 L129.38,85.61 L129.88,85.90 L130.39,86.20 L130.89,86.50 L131.40,86.80 L131.90,87.11 L132.40,87.42 L132.91,87.73 L133.41,88.05 L133.92,88.37 L134.42,88.70 L134.93,89.02 L135.43,89.36 L135.93,89.69 L136.44,90.03 L136.94,90.37 L137.45,90.72 L137.95,91.07 L138.45,91.42 L138.96,91.78 L139.46,92.14 L139.97,92.50 L140.47,92.87 L140.98,93.23 L141.48,93.61 L141.98,93.98 L142.49,94.36 L142.99,94.74 L143.50,95.12 L144.00,95.51 L144.50,95.90 L145.01,96.29 L145.51,96.69 L146.02,97.09 L146.52,97.49 L147.03,97.89 L147.53,98.30 L148.03,98.71 L148.54,99.12 L149.04,99.53 L149.55,99.94 L150.05,100.36 L150.55,100.78 L151.06,101.21 L151.56,101.63 L152.07,102.06 L152.57,102.49 L153.08,102.92 L153.58,103.35 L154.08,103.78 L154.59,104.22 L155.09,104.66 L155.60,105.10 L156.10,105.54 L156.60,105.99 L157.11,106.43 L157.61,106.88 L158.12,107.33 L158.62,107.78 L159.13,108.23 L159.63,108.69 L160.13,109.14 L160.64,109.60 L161.14,110.06 L161.65,110.52 L162.15,110.98 L162.65,111.44 L163.16,111.91 L163.66,112.37 L164.17,112.84 L164.67,113.31 L165.18,113.78 L165.68,114.25 L166.18,114.72 L166.69,115.20 L167.19,115.67 L167.70,116.15 L168.20,116.62 L168.70,117.10 L169.21,117.58 L169.71,118.06 L170.22,118.55 L170.72,119.03 L171.23,119.51 L171.73,120.00 L172.23,120.49 L172.74,120.98 L173.24,121.47 L173.75,121.96 L174.25,122.45 L174.75,122.94 L175.26,123.44 L175.76,123.94 L176.27,124.43 L176.77,124.93 L177.28,125.43 L177.78,125.93 L178.28,126.44 L178.79,126.94 L179.29,127.45 L179.80,127.95 L180.30,128.46 L180.80,128.97 L181.31,129.48 L181.81,129.99 L182.32,130.51 L182.82,131.02 L183.33,131.54 L183.83,132.06 L184.33,132.57 L184.84,133.09 L185.34,133.62 L185.85,134.14 L186.35,134.66 L186.85,135.19 L187.36,135.72 L187.86,136.24 L188.37,136.77 L188.87,137.30 L189.38,137.84 L189.88,138.37 L190.38,138.90 L190.89,139.44 L191.39,139.98 L191.90,140.52 L192.40,141.05 L192.90,141.59 L193.41,142.14 L193.91,142.68 L194.42,143.22 L194.92,143.77 L195.43,144.31 L195.93,144.86 L196.43,145.40 L196.94,145.95 L197.44,146.50 L197.95,147.05 L198.45,147.60 L198.95,148.15 L199.46,148.70 L199.96,149.25 L200.47,149.80 L200.97,150.35 L201.48,150.91 L201.98,151.46 L202.48,152.01 L202.99,152.56 L203.49,153.11 L204.00,153.67 L204.50,154.22 L205.00,154.77 L205.51,155.32 L206.01,155.87 L206.52,156.42 L207.02,156.97 L207.53,157.52 L208.03,158.07 L208.53,158.62 L209.04,159.17 L209.54,159.71 L210.05,160.26 L210.55,160.80 L211.05,161.35 L211.56,161.89 L212.06,162.43 L212.57,162.97 L213.07,163.50 L213.58,164.04 L214.08,164.57 L214.58,165.11 L215.09,165.64 L215.59,166.17 L216.10,166.69 L216.60,167.22 L217.10,167.74 L217.61,168.26 L218.11,168.78 L218.62,169.30 L219.12,169.81 L219.63,170.32 L220.13,170.83 L220.63,171.34 L221.14,171.84 L221.64,172.34 L222.15,172.84 L222.65,173.33 L223.15,173.83 L223.66,174.32 L224.16,174.80 L224.67,175.29 L225.17,175.77 L225.68,176.25 L226.18,176.72 L226.68,177.20 L227.19,177.66 L227.69,178.13 L228.20,178.59 L228.70,179.05 L229.20,179.51 L229.71,179.96 L230.21,180.41 L230.72,180.86 L231.22,181.30 L231.73,181.74 L232.23,182.18 L232.73,182.61 L233.24,183.04 L233.74,183.47 L234.25,183.89 L234.75,184.31 L235.25,184.73 L235.76,185.14 L236.26,185.55 L236.77,185.96 L237.27,186.36 L237.78,186.76 L238.28,187.16 L238.78,187.55 L239.29,187.94 L239.79,188.33 L240.30,188.71 L240.80,189.09 L241.30,189.47 L241.81,189.84 L242.31,190.21 L242.82,190.58 L243.32,190.94 L243.83,191.30 L244.33,191.66 L244.83,192.01 L245.34,192.36 L245.84,192.71 L246.35,193.05 L246.85,193.39 L247.35,193.73 L247.86,194.06 L248.36,194.40 L248.87,194.72 L249.37,195.05 L249.88,195.37 L250.38,195.69 L250.88,196.00 L251.39,196.31 L251.89,196.62 L252.40,196.92 L252.90,197.22 L253.40,197.52 L253.91,197.81 L254.41,198.11 L254.92,198.39 L255.42,198.68 L255.93,198.96 L256.43,199.23 L256.93,199.50 L257.44,199.77 L257.94,200.04 L258.45,200.30 L258.95,200.56 L259.45,200.81 L259.96,201.06 L260.46,201.31 L260.97,201.55 L261.47,201.79 L261.98,202.03 L262.48,202.26 L262.98,202.48 L263.49,202.70 L263.99,202.92 L264.50,203.14 L265.00,203.34 L265.50,203.55 L266.01,203.75 L266.51,203.94 L267.02,204.13 L267.52,204.32 L268.03,204.50 L268.53,204.68 L269.03,204.85 L269.54,205.02 L270.04,205.18 L270.55,205.33 L271.05,205.49 L271.55,205.63 L272.06,205.77 L272.56,205.91 L273.07,206.04 L273.57,206.16 L274.08,206.28 L274.58,206.40 L275.08,206.50 L275.59,206.60 L276.09,206.70 L276.60,206.79 L277.10,206.88 L277.60,206.96 L278.11,207.03 L278.61,207.09 L279.12,207.16 L279.62,207.21 L280.13,207.26 L280.63,207.30 L281.13,207.34 L281.64,207.37 L282.14,207.39 L282.65,207.41 L283.15,207.42 L283.65,207.43 L284.16,207.43 L284.66,207.42 L285.17,207.40 L285.67,207.38 L286.18,207.36 L286.68,207.33 L287.18,207.29 L287.69,207.24 L288.19,207.19 L288.70,207.13 L289.20,207.07 L289.70,207.00 L290.21,206.92 L290.71,206.84 L291.22,206.75 L291.72,206.65 L292.23,206.55 L292.73,206.45 L293.23,206.33 L293.74,206.21 L294.24,206.09 L294.75,205.96 L295.25,205.82 L295.75,205.68 L296.26,205.53 L296.76,205.38 L297.27,205.22 L297.77,205.05 L298.28,204.88 L298.78,204.71 L299.28,204.53 L299.79,204.34 L300.29,204.15 L300.80,203.95 L301.30,203.75 L301.80,203.54 L302.31,203.33 L302.81,203.11 L303.32,202.89 L303.82,202.66 L304.33,202.43 L304.83,202.20 L305.33,201.96 L305.84,201.71 L306.34,201.47 L306.85,201.21 L307.35,200.95 L307.85,200.69 L308.36,200.43 L308.86,200.16 L309.37,199.88 L309.87,199.61 L310.38,199.33 L310.88,199.04 L311.38,198.75 L311.89,198.46 L312.39,198.16 L312.90,197.86 L313.40,197.56 L313.90,197.25 L314.41,196.94 L314.91,196.63 L315.42,196.31 L315.92,195.99 L316.43,195.67 L316.93,195.34 L317.43,195.01 L317.94,194.68 L318.44,194.34 L318.95,194.00 L319.45,193.66 L319.95,193.31 L320.46,192.97 L320.96,192.61 L321.47,192.26 L321.97,191.90 L322.48,191.54 L322.98,191.18 L323.48,190.81 L323.99,190.44 L324.49,190.06 L325.00,189.69 L325.50,189.31 L326.00,188.93 L326.51,188.54 L327.01,188.15 L327.52,187.76 L328.02,187.36 L328.53,186.96 L329.03,186.56 L329.53,186.16 L330.04,185.75 L330.54,185.34 L331.05,184.92 L331.55,184.50 L332.05,184.08 L332.56,183.66 L333.06,183.23 L333.57,182.80 L334.07,182.36 L334.58,181.92 L335.08,181.48 L335.58,181.03 L336.09,180.58 L336.59,180.13 L337.10,179.67 L337.60,179.21 L338.10,178.75 L338.61,178.28 L339.11,177.81 L339.62,177.33 L340.12,176.85 L340.63,176.37 L341.13,175.88 L341.63,175.39 L342.14,174.90 L342.64,174.40 L343.15,173.90 L343.65,173.39 L344.15,172.88 L344.66,172.37 L345.16,171.85 L345.67,171.33 L346.17,170.80 L346.68,170.28 L347.18,169.74 L347.68,169.21 L348.19,168.67 L348.69,168.12 L349.20,167.57 L349.70,167.02 L350.20,166.47 L350.71,165.91 L351.21,165.35 L351.72,164.78 L352.22,164.22 L352.73,163.64 L353.23,163.07 L353.73,162.49 L354.24,161.91 L354.74,161.32 L355.25,160.74 L355.75,160.15 L356.25,159.55 L356.76,158.96 L357.26,158.36 L357.77,157.76 L358.27,157.15 L358.78,156.54 L359.28,155.94 L359.78,155.32 L360.29,154.71 L360.79,154.10 L361.30,153.48 L361.80,152.86 L362.30,152.24 L362.81,151.62 L363.31,150.99 L363.82,150.37 L364.32,149.74 L364.83,149.11 L365.33,148.48 L365.83,147.85 L366.34,147.22 L366.84,146.59 L367.35,145.96 L367.85,145.32 L368.35,144.69 L368.86,144.06 L369.36,143.42 L369.87,142.79 L370.37,142.15 L370.88,141.52 L371.38,140.89 L371.88,140.25 L372.39,139.62 L372.89,138.99 L373.40,138.36 L373.90,137.73 L374.40,137.10 L374.91,136.47 L375.41,135.84 L375.92,135.21 L376.42,134.59 L376.93,133.97 L377.43,133.34 L377.93,132.72 L378.44,132.10 L378.94,131.49 L379.45,130.87 L379.95,130.26 L380.45,129.65 L380.96,129.04 L381.46,128.43 L381.97,127.82 L382.47,127.22 L382.98,126.62 L383.48,126.02 L383.98,125.43 L384.49,124.83 L384.99,124.24 L385.50,123.65 L386.00,123.07 L386.50,122.48 L387.01,121.90 L387.51,121.33 L388.02,120.75 L388.52,120.18 L389.03,119.61 L389.53,119.05 L390.03,118.48 L390.54,117.92 L391.04,117.37 L391.55,116.81 L392.05,116.26 L392.55,115.71 L393.06,115.17 L393.56,114.63 L394.07,114.09 L394.57,113.55 L395.08,113.02 L395.58,112.49 L396.08,111.97 L396.59,111.44 L397.09,110.92 L397.60,110.40 L398.10,109.89 L398.60,109.38 L399.11,108.87 L399.61,108.37 L400.12,107.87 L400.62,107.37 L401.13,106.87 L401.63,106.38 L402.13,105.89 L402.64,105.41 L403.14,104.92 L403.65,104.44 L404.15,103.97 L404.65,103.49 L405.16,103.02 L405.66,102.55 L406.17,102.09 L406.67,101.63 L407.18,101.17 L407.68,100.72 L408.18,100.26 L408.69,99.81 L409.19,99.37 L409.70,98.93 L410.20,98.49" stroke="#00ffff" stroke-width="1.9" stroke-dasharray="1.6 2.8" fill="none"/>
<path d="M47.20,98.63 L47.70,99.15 L48.21,99.67 L48.71,100.20 L49.22,100.72 L49.72,101.25 L50.23,101.79 L50.73,102.32 L51.23,102.86 L51.74,103.40 L52.24,103.94 L52.75,104.49 L53.25,105.03 L53.75,105.58 L54.26,106.13 L54.76,106.69 L55.27,107.24 L55.77,107.80 L56.28,108.36 L56.78,108.93 L57.28,109.49 L57.79,110.06 L58.29,110.63 L58.80,111.20 L59.30,111.78 L59.80,112.35 L60.31,112.93 L60.81,113.51 L61.32,114.09 L61.82,114.68 L62.33,115.26 L62.83,115.85 L63.33,116.44 L63.84,117.03 L64.34,117.63 L64.85,118.22 L65.35,118.82 L65.85,119.42 L66.36,120.02 L66.86,120.62 L67.37,121.23 L67.87,121.83 L68.38,122.44 L68.88,123.05 L69.38,123.66 L69.89,124.28 L70.39,124.89 L70.90,125.51 L71.40,126.12 L71.90,126.74 L72.41,127.36 L72.91,127.99 L73.42,128.61 L73.92,129.24 L74.43,129.86 L74.93,130.49 L75.43,131.12 L75.94,131.75 L76.44,132.38 L76.95,133.01 L77.45,133.64 L77.95,134.27 L78.46,134.91 L78.96,135.54 L79.47,136.18 L79.97,136.82 L80.48,137.45 L80.98,138.09 L81.48,138.73 L81.99,139.37 L82.49,140.01 L83.00,140.65 L83.50,141.29 L84.00,141.93 L84.51,142.57 L85.01,143.20 L85.52,143.84 L86.02,144.48 L86.53,145.12 L87.03,145.76 L87.53,146.40 L88.04,147.04 L88.54,147.68 L89.05,148.31 L89.55,148.95 L90.05,149.58 L90.56,150.22 L91.06,150.85 L91.57,151.48 L92.07,152.11 L92.58,152.74 L93.08,153.37 L93.58,154.00 L94.09,154.62 L94.59,155.25 L95.10,155.87 L95.60,156.49 L96.10,157.11 L96.61,157.73 L97.11,158.34 L97.62,158.96 L98.12,159.57 L98.63,160.18 L99.13,160.78 L99.63,161.39 L100.14,161.99 L100.64,162.59 L101.15,163.18 L101.65,163.78 L102.15,164.37 L102.66,164.96 L103.16,165.54 L103.67,166.13 L104.17,166.71 L104.68,167.28 L105.18,167.86 L105.68,168.43 L106.19,169.00 L106.69,169.56 L107.20,170.12 L107.70,170.68 L108.20,171.24 L108.71,171.79 L109.21,172.33 L109.72,172.88 L110.22,173.42 L110.73,173.96 L111.23,174.49 L111.73,175.02 L112.24,175.55 L112.74,176.07 L113.25,176.59 L113.75,177.10 L114.25,177.62 L114.76,178.12 L115.26,178.63 L115.77,179.13 L116.27,179.62 L116.78,180.11 L117.28,180.60 L117.78,181.09 L118.29,181.57 L118.79,182.04 L119.30,182.52 L119.80,182.98 L120.30,183.45 L120.81,183.91 L121.31,184.36 L121.82,184.82 L122.32,185.26 L122.83,185.71 L123.33,186.15 L123.83,186.58 L124.34,187.02 L124.84,187.44 L125.35,187.87 L125.85,188.29 L126.35,188.70 L126.86,189.11 L127.36,189.52 L127.87,189.92 L128.37,190.32 L128.88,190.71 L129.38,191.10 L129.88,191.49 L130.39,191.87 L130.89,192.24 L131.40,192.62 L131.90,192.98 L132.40,193.35 L132.91,193.71 L133.41,194.06 L133.92,194.41 L134.42,194.76 L134.93,195.10 L135.43,195.44 L135.93,195.77 L136.44,196.10 L136.94,196.42 L137.45,196.74 L137.95,197.05 L138.45,197.36 L138.96,197.66 L139.46,197.96 L139.97,198.26 L140.47,198.55 L140.98,198.83 L141.48,199.11 L141.98,199.39 L142.49,199.66 L142.99,199.92 L143.50,200.18 L144.00,200.44 L144.50,200.69 L145.01,200.93 L145.51,201.17 L146.02,201.40 L146.52,201.63 L147.03,201.85 L147.53,202.07 L148.03,202.28 L148.54,202.49 L149.04,202.69 L149.55,202.88 L150.05,203.07 L150.55,203.26 L151.06,203.43 L151.56,203.60 L152.07,203.77 L152.57,203.93 L153.08,204.08 L153.58,204.23 L154.08,204.37 L154.59,204.51 L155.09,204.64 L155.60,204.76 L156.10,204.88 L156.60,204.99 L157.11,205.09 L157.61,205.19 L158.12,205.28 L158.62,205.37 L159.13,205.44 L159.63,205.52 L160.13,205.58 L160.64,205.64 L161.14,205.69 L161.65,205.74 L162.15,205.78 L162.65,205.81 L163.16,205.84 L163.66,205.86 L164.17,205.87 L164.67,205.88 L165.18,205.88 L165.68,205.87 L166.18,205.86 L166.69,205.84 L167.19,205.81 L167.70,205.78 L168.20,205.74 L168.70,205.69 L169.21,205.64 L169.71,205.58 L170.22,205.52 L170.72,205.45 L171.23,205.37 L171.73,205.28 L172.23,205.19 L172.74,205.09 L173.24,204.99 L173.75,204.88 L174.25,204.76 L174.75,204.64 L175.26,204.51 L175.76,204.38 L176.27,204.24 L176.77,204.09 L177.28,203.94 L177.78,203.78 L178.28,203.62 L178.79,203.45 L179.29,203.27 L179.80,203.09 L180.30,202.91 L180.80,202.71 L181.31,202.52 L181.81,202.31 L182.32,202.11 L182.82,201.89 L183.33,201.67 L183.83,201.45 L184.33,201.22 L184.84,200.99 L185.34,200.75 L185.85,200.51 L186.35,200.26 L186.85,200.01 L187.36,199.75 L187.86,199.49 L188.37,199.23 L188.87,198.95 L189.38,198.68 L189.88,198.40 L190.38,198.12 L190.89,197.83 L191.39,197.54 L191.90,197.25 L192.40,196.95 L192.90,196.64 L193.41,196.34 L193.91,196.03 L194.42,195.71 L194.92,195.40 L195.43,195.07 L195.93,194.75 L196.43,194.42 L196.94,194.09 L197.44,193.75 L197.95,193.42 L198.45,193.07 L198.95,192.73 L199.46,192.38 L199.96,192.03 L200.47,191.67 L200.97,191.32 L201.48,190.95 L201.98,190.59 L202.48,190.22 L202.99,189.85 L203.49,189.48 L204.00,189.10 L204.50,188.73 L205.00,188.34 L205.51,187.96 L206.01,187.57 L206.52,187.18 L207.02,186.79 L207.53,186.39 L208.03,185.99 L208.53,185.59 L209.04,185.19 L209.54,184.78 L210.05,184.37 L210.55,183.95 L211.05,183.54 L211.56,183.12 L212.06,182.70 L212.57,182.27 L213.07,181.85 L213.58,181.42 L214.08,180.98 L214.58,180.55 L215.09,180.11 L215.59,179.67 L216.10,179.22 L216.60,178.78 L217.10,178.33 L217.61,177.88 L218.11,177.42 L218.62,176.96 L219.12,176.50 L219.63,176.04 L220.13,175.57 L220.63,175.10 L221.14,174.63 L221.64,174.16 L222.15,173.68 L222.65,173.20 L223.15,172.72 L223.66,172.23 L224.16,171.74 L224.67,171.25 L225.17,170.76 L225.68,170.26 L226.18,169.76 L226.68,169.26 L227.19,168.76 L227.69,168.25 L228.20,167.74 L228.70,167.23 L229.20,166.71 L229.71,166.20 L230.21,165.68 L230.72,165.16 L231.22,164.63 L231.73,164.10 L232.23,163.58 L232.73,163.04 L233.24,162.51 L233.74,161.98 L234.25,161.44 L234.75,160.90 L235.25,160.36 L235.76,159.81 L236.26,159.27 L236.77,158.72 L237.27,158.17 L237.78,157.62 L238.28,157.06 L238.78,156.51 L239.29,155.95 L239.79,155.39 L240.30,154.83 L240.80,154.27 L241.30,153.71 L241.81,153.15 L242.31,152.58 L242.82,152.02 L243.32,151.45 L243.83,150.88 L244.33,150.31 L244.83,149.74 L245.34,149.17 L245.84,148.60 L246.35,148.02 L246.85,147.45 L247.35,146.88 L247.86,146.30 L248.36,145.73 L248.87,145.15 L249.37,144.57 L249.88,144.00 L250.38,143.42 L250.88,142.84 L251.39,142.27 L251.89,141.69 L252.40,141.11 L252.90,140.54 L253.40,139.96 L253.91,139.38 L254.41,138.81 L254.92,138.23 L255.42,137.66 L255.93,137.08 L256.43,136.51 L256.93,135.93 L257.44,135.36 L257.94,134.79 L258.45,134.22 L258.95,133.64 L259.45,133.07 L259.96,132.50 L260.46,131.93 L260.97,131.37 L261.47,130.80 L261.98,130.23 L262.48,129.67 L262.98,129.10 L263.49,128.54 L263.99,127.98 L264.50,127.41 L265.00,126.85 L265.50,126.29 L266.01,125.74 L266.51,125.18 L267.02,124.62 L267.52,124.07 L268.03,123.52 L268.53,122.97 L269.03,122.42 L269.54,121.87 L270.04,121.32 L270.55,120.77 L271.05,120.23 L271.55,119.68 L272.06,119.14 L272.56,118.60 L273.07,118.06 L273.57,117.52 L274.08,116.98 L274.58,116.45 L275.08,115.91 L275.59,115.38 L276.09,114.85 L276.60,114.32 L277.10,113.79 L277.60,113.27 L278.11,112.74 L278.61,112.22 L279.12,111.70 L279.62,111.17 L280.13,110.66 L280.63,110.14 L281.13,109.62 L281.64,109.11 L282.14,108.59 L282.65,108.08 L283.15,107.57 L283.65,107.07 L284.16,106.56 L284.66,106.05 L285.17,105.55 L285.67,105.05 L286.18,104.55 L286.68,104.05 L287.18,103.56 L287.69,103.06 L288.19,102.57 L288.70,102.08 L289.20,101.59 L289.70,101.10 L290.21,100.62 L290.71,100.13 L291.22,99.65 L291.72,99.17 L292.23,98.70 L292.73,98.22 L293.23,97.75 L293.74,97.28 L294.24,96.81 L294.75,96.34 L295.25,95.88 L295.75,95.42 L296.26,94.96 L296.76,94.50 L297.27,94.05 L297.77,93.60 L298.28,93.15 L298.78,92.70 L299.28,92.26 L299.79,91.82 L300.29,91.38 L300.80,90.94 L301.30,90.51 L301.80,90.08 L302.31,89.65 L302.81,89.23 L303.32,88.81 L303.82,88.39 L304.33,87.98 L304.83,87.57 L305.33,87.16 L305.84,86.75 L306.34,86.35 L306.85,85.96 L307.35,85.56 L307.85,85.17 L308.36,84.78 L308.86,84.40 L309.37,84.02 L309.87,83.65 L310.38,83.27 L310.88,82.91 L311.38,82.54 L311.89,82.18 L312.39,81.82 L312.90,81.47 L313.40,81.12 L313.90,80.78 L314.41,80.44 L314.91,80.10 L315.42,79.77 L315.92,79.44 L316.43,79.12 L316.93,78.80 L317.43,78.49 L317.94,78.17 L318.44,77.87 L318.95,77.57 L319.45,77.27 L319.95,76.98 L320.46,76.69 L320.96,76.40 L321.47,76.12 L321.97,75.85 L322.48,75.58 L322.98,75.31 L323.48,75.05 L323.99,74.79 L324.49,74.54 L325.00,74.29 L325.50,74.05 L326.00,73.81 L326.51,73.57 L327.01,73.34 L327.52,73.12 L328.02,72.90 L328.53,72.68 L329.03,72.47 L329.53,72.26 L330.04,72.06 L330.54,71.86 L331.05,71.67 L331.55,71.48 L332.05,71.29 L332.56,71.11 L333.06,70.93 L333.57,70.76 L334.07,70.60 L334.58,70.43 L335.08,70.27 L335.58,70.12 L336.09,69.97 L336.59,69.83 L337.10,69.68 L337.60,69.55 L338.10,69.42 L338.61,69.29 L339.11,69.16 L339.62,69.05 L340.12,68.93 L340.63,68.82 L341.13,68.71 L341.63,68.61 L342.14,68.51 L342.64,68.42 L343.15,68.33 L343.65,68.25 L344.15,68.16 L344.66,68.09 L345.16,68.02 L345.67,67.95 L346.17,67.88 L346.68,67.82 L347.18,67.77 L347.68,67.72 L348.19,67.67 L348.69,67.63 L349.20,67.59 L349.70,67.56 L350.20,67.53 L350.71,67.50 L351.21,67.48 L351.72,67.46 L352.22,67.45 L352.73,67.44 L353.23,67.44 L353.73,67.44 L354.24,67.45 L354.74,67.46 L355.25,67.47 L355.75,67.49 L356.25,67.51 L356.76,67.54 L357.26,67.57 L357.77,67.61 L358.27,67.65 L358.78,67.70 L359.28,67.75 L359.78,67.80 L360.29,67.86 L360.79,67.93 L361.30,68.00 L361.80,68.07 L362.30,68.15 L362.81,68.24 L363.31,68.33 L363.82,68.42 L364.32,68.52 L364.83,68.62 L365.33,68.73 L365.83,68.85 L366.34,68.97 L366.84,69.09 L367.35,69.22 L367.85,69.36 L368.35,69.50 L368.86,69.64 L369.36,69.79 L369.87,69.95 L370.37,70.11 L370.88,70.28 L371.38,70.45 L371.88,70.63 L372.39,70.81 L372.89,71.00 L373.40,71.19 L373.90,71.39 L374.40,71.60 L374.91,71.81 L375.41,72.02 L375.92,72.24 L376.42,72.47 L376.93,72.70 L377.43,72.94 L377.93,73.18 L378.44,73.43 L378.94,73.68 L379.45,73.94 L379.95,74.20 L380.45,74.47 L380.96,74.75 L381.46,75.03 L381.97,75.31 L382.47,75.61 L382.98,75.90 L383.48,76.20 L383.98,76.51 L384.49,76.82 L384.99,77.14 L385.50,77.46 L386.00,77.79 L386.50,78.12 L387.01,78.46 L387.51,78.80 L388.02,79.15 L388.52,79.50 L389.03,79.86 L389.53,80.23 L390.03,80.59 L390.54,80.96 L391.04,81.34 L391.55,81.72 L392.05,82.11 L392.55,82.50 L393.06,82.90 L393.56,83.29 L394.07,83.70 L394.57,84.11 L395.08,84.52 L395.58,84.94 L396.08,85.36 L396.59,85.78 L397.09,86.21 L397.60,86.65 L398.10,87.08 L398.60,87.53 L399.11,87.97 L399.61,88.42 L400.12,88.87 L400.62,89.33 L401.13,89.79 L401.63,90.25 L402.13,90.72 L402.64,91.19 L403.14,91.66 L403.65,92.14 L404.15,92.62 L404.65,93.11 L405.16,93.59 L405.66,94.08 L406.17,94.58 L406.67,95.07 L407.18,95.57 L407.68,96.07 L408.18,96.58 L408.69,97.09 L409.19,97.60 L409.70,98.11 L410.20,98.63" stroke="#0000ff" stroke-width="1.6" stroke-dasharray="4.3 2.5" fill="none"/>
<path d="M47.20,98.16 L47.70,98.60 L48.21,99.04 L48.71,99.49 L49.22,99.94 L49.72,100.39 L50.23,100.85 L50.73,101.31 L51.23,101.78 L51.74,102.25 L52.24,102.73 L52.75,103.20 L53.25,103.69 L53.75,104.17 L54.26,104.66 L54.76,105.16 L55.27,105.65 L55.77,106.15 L56.28,106.66 L56.78,107.17 L57.28,107.68 L57.79,108.19 L58.29,108.71 L58.80,109.24 L59.30,109.76 L59.80,110.29 L60.31,110.82 L60.81,111.36 L61.32,111.90 L61.82,112.44 L62.33,112.99 L62.83,113.54 L63.33,114.09 L63.84,114.65 L64.34,115.21 L64.85,115.77 L65.35,116.33 L65.85,116.90 L66.36,117.47 L66.86,118.05 L67.37,118.62 L67.87,119.20 L68.38,119.78 L68.88,120.37 L69.38,120.95 L69.89,121.54 L70.39,122.13 L70.90,122.72 L71.40,123.32 L71.90,123.92 L72.41,124.52 L72.91,125.12 L73.42,125.72 L73.92,126.33 L74.43,126.93 L74.93,127.54 L75.43,128.15 L75.94,128.76 L76.44,129.37 L76.95,129.99 L77.45,130.60 L77.95,131.22 L78.46,131.84 L78.96,132.46 L79.47,133.07 L79.97,133.69 L80.48,134.31 L80.98,134.94 L81.48,135.56 L81.99,136.18 L82.49,136.80 L83.00,137.43 L83.50,138.05 L84.00,138.67 L84.51,139.30 L85.01,139.92 L85.52,140.54 L86.02,141.16 L86.53,141.79 L87.03,142.41 L87.53,143.03 L88.04,143.65 L88.54,144.27 L89.05,144.89 L89.55,145.51 L90.05,146.13 L90.56,146.75 L91.06,147.37 L91.57,147.98 L92.07,148.60 L92.58,149.21 L93.08,149.82 L93.58,150.43 L94.09,151.04 L94.59,151.65 L95.10,152.26 L95.60,152.86 L96.10,153.47 L96.61,154.07 L97.11,154.67 L97.62,155.27 L98.12,155.87 L98.63,156.46 L99.13,157.06 L99.63,157.65 L100.14,158.24 L100.64,158.82 L101.15,159.41 L101.65,159.99 L102.15,160.57 L102.66,161.15 L103.16,161.73 L103.67,162.31 L104.17,162.88 L104.68,163.45 L105.18,164.02 L105.68,164.58 L106.19,165.15 L106.69,165.71 L107.20,166.27 L107.70,166.82 L108.20,167.38 L108.71,167.93 L109.21,168.47 L109.72,169.02 L110.22,169.56 L110.73,170.11 L111.23,170.64 L111.73,171.18 L112.24,171.71 L112.74,172.24 L113.25,172.77 L113.75,173.29 L114.25,173.82 L114.76,174.34 L115.26,174.85 L115.77,175.37 L116.27,175.88 L116.78,176.39 L117.28,176.89 L117.78,177.39 L118.29,177.89 L118.79,178.39 L119.30,178.88 L119.80,179.37 L120.30,179.86 L120.81,180.35 L121.31,180.83 L121.82,181.30 L122.32,181.78 L122.83,182.25 L123.33,182.72 L123.83,183.19 L124.34,183.65 L124.84,184.11 L125.35,184.56 L125.85,185.02 L126.35,185.47 L126.86,185.91 L127.36,186.36 L127.87,186.79 L128.37,187.23 L128.88,187.66 L129.38,188.09 L129.88,188.52 L130.39,188.94 L130.89,189.35 L131.40,189.77 L131.90,190.18 L132.40,190.58 L132.91,190.99 L133.41,191.39 L133.92,191.78 L134.42,192.17 L134.93,192.56 L135.43,192.94 L135.93,193.32 L136.44,193.69 L136.94,194.06 L137.45,194.43 L137.95,194.79 L138.45,195.15 L138.96,195.50 L139.46,195.85 L139.97,196.19 L140.47,196.53 L140.98,196.86 L141.48,197.19 L141.98,197.52 L142.49,197.84 L142.99,198.16 L143.50,198.47 L144.00,198.77 L144.50,199.07 L145.01,199.37 L145.51,199.66 L146.02,199.95 L146.52,200.23 L147.03,200.50 L147.53,200.77 L148.03,201.04 L148.54,201.30 L149.04,201.56 L149.55,201.81 L150.05,202.05 L150.55,202.29 L151.06,202.52 L151.56,202.75 L152.07,202.97 L152.57,203.19 L153.08,203.40 L153.58,203.61 L154.08,203.81 L154.59,204.00 L155.09,204.19 L155.60,204.37 L156.10,204.55 L156.60,204.72 L157.11,204.89 L157.61,205.05 L158.12,205.21 L158.62,205.35 L159.13,205.50 L159.63,205.64 L160.13,205.77 L160.64,205.89 L161.14,206.01 L161.65,206.13 L162.15,206.24 L162.65,206.34 L163.16,206.44 L163.66,206.53 L164.17,206.61 L164.67,206.69 L165.18,206.77 L165.68,206.83 L166.18,206.90 L166.69,206.95 L167.19,207.00 L167.70,207.05 L168.20,207.09 L168.70,207.12 L169.21,207.15 L169.71,207.17 L170.22,207.19 L170.72,207.20 L171.23,207.21 L171.73,207.21 L172.23,207.20 L172.74,207.19 L173.24,207.18 L173.75,207.15 L174.25,207.13 L174.75,207.09 L175.26,207.06 L175.76,207.01 L176.27,206.96 L176.77,206.91 L177.28,206.85 L177.78,206.79 L178.28,206.72 L178.79,206.64 L179.29,206.56 L179.80,206.48 L180.30,206.39 L180.80,206.29 L181.31,206.19 L181.81,206.09 L182.32,205.97 L182.82,205.86 L183.33,205.74 L183.83,205.61 L184.33,205.48 L184.84,205.35 L185.34,205.21 L185.85,205.06 L186.35,204.91 L186.85,204.76 L187.36,204.60 L187.86,204.44 L188.37,204.27 L188.87,204.10 L189.38,203.92 L189.88,203.74 L190.38,203.55 L190.89,203.36 L191.39,203.16 L191.90,202.96 L192.40,202.76 L192.90,202.55 L193.41,202.33 L193.91,202.11 L194.42,201.89 L194.92,201.66 L195.43,201.43 L195.93,201.20 L196.43,200.96 L196.94,200.71 L197.44,200.46 L197.95,200.21 L198.45,199.95 L198.95,199.69 L199.46,199.43 L199.96,199.16 L200.47,198.88 L200.97,198.61 L201.48,198.32 L201.98,198.04 L202.48,197.75 L202.99,197.45 L203.49,197.15 L204.00,196.85 L204.50,196.54 L205.00,196.23 L205.51,195.92 L206.01,195.60 L206.52,195.28 L207.02,194.95 L207.53,194.62 L208.03,194.29 L208.53,193.95 L209.04,193.61 L209.54,193.27 L210.05,192.92 L210.55,192.57 L211.05,192.21 L211.56,191.85 L212.06,191.49 L212.57,191.12 L213.07,190.75 L213.58,190.38 L214.08,190.00 L214.58,189.62 L215.09,189.24 L215.59,188.85 L216.10,188.46 L216.60,188.06 L217.10,187.67 L217.61,187.27 L218.11,186.86 L218.62,186.46 L219.12,186.05 L219.63,185.63 L220.13,185.22 L220.63,184.80 L221.14,184.38 L221.64,183.96 L222.15,183.53 L222.65,183.10 L223.15,182.67 L223.66,182.23 L224.16,181.79 L224.67,181.35 L225.17,180.91 L225.68,180.47 L226.18,180.02 L226.68,179.57 L227.19,179.12 L227.69,178.66 L228.20,178.20 L228.70,177.74 L229.20,177.28 L229.71,176.82 L230.21,176.36 L230.72,175.89 L231.22,175.42 L231.73,174.95 L232.23,174.48 L232.73,174.00 L233.24,173.52 L233.74,173.05 L234.25,172.57 L234.75,172.09 L235.25,171.60 L235.76,171.12 L236.26,170.63 L236.77,170.15 L237.27,169.66 L237.78,169.17 L238.28,168.68 L238.78,168.19 L239.29,167.69 L239.79,167.20 L240.30,166.70 L240.80,166.21 L241.30,165.71 L241.81,165.21 L242.31,164.71 L242.82,164.21 L243.32,163.71 L243.83,163.20 L244.33,162.70 L244.83,162.20 L245.34,161.69 L245.84,161.19 L246.35,160.68 L246.85,160.17 L247.35,159.67 L247.86,159.16 L248.36,158.65 L248.87,158.14 L249.37,157.63 L249.88,157.12 L250.38,156.61 L250.88,156.09 L251.39,155.58 L251.89,155.07 L252.40,154.55 L252.90,154.04 L253.40,153.52 L253.91,153.01 L254.41,152.49 L254.92,151.98 L255.42,151.46 L255.93,150.94 L256.43,150.43 L256.93,149.91 L257.44,149.39 L257.94,148.87 L258.45,148.35 L258.95,147.84 L259.45,147.32 L259.96,146.80 L260.46,146.27 L260.97,145.75 L261.47,145.23 L261.98,144.71 L262.48,144.19 L262.98,143.67 L263.49,143.15 L263.99,142.62 L264.50,142.10 L265.00,141.58 L265.50,141.05 L266.01,140.53 L266.51,140.00 L267.02,139.48 L267.52,138.95 L268.03,138.43 L268.53,137.90 L269.03,137.38 L269.54,136.85 L270.04,136.33 L270.55,135.80 L271.05,135.28 L271.55,134.75 L272.06,134.22 L272.56,133.70 L273.07,133.17 L273.57,132.64 L274.08,132.12 L274.58,131.59 L275.08,131.06 L275.59,130.54 L276.09,130.01 L276.60,129.49 L277.10,128.96 L277.60,128.43 L278.11,127.91 L278.61,127.38 L279.12,126.86 L279.62,126.33 L280.13,125.81 L280.63,125.29 L281.13,124.76 L281.64,124.24 L282.14,123.72 L282.65,123.20 L283.15,122.68 L283.65,122.15 L284.16,121.64 L284.66,121.12 L285.17,120.60 L285.67,120.08 L286.18,119.57 L286.68,119.05 L287.18,118.54 L287.69,118.02 L288.19,117.51 L288.70,117.00 L289.20,116.49 L289.70,115.98 L290.21,115.48 L290.71,114.97 L291.22,114.47 L291.72,113.97 L292.23,113.47 L292.73,112.97 L293.23,112.47 L293.74,111.97 L294.24,111.48 L294.75,110.99 L295.25,110.50 L295.75,110.01 L296.26,109.53 L296.76,109.04 L297.27,108.56 L297.77,108.08 L298.28,107.61 L298.78,107.13 L299.28,106.66 L299.79,106.19 L300.29,105.73 L300.80,105.26 L301.30,104.80 L301.80,104.34 L302.31,103.88 L302.81,103.43 L303.32,102.98 L303.82,102.53 L304.33,102.09 L304.83,101.65 L305.33,101.21 L305.84,100.77 L306.34,100.34 L306.85,99.91 L307.35,99.48 L307.85,99.06 L308.36,98.64 L308.86,98.22 L309.37,97.81 L309.87,97.40 L310.38,96.99 L310.88,96.59 L311.38,96.19 L311.89,95.79 L312.39,95.40 L312.90,95.01 L313.40,94.62 L313.90,94.24 L314.41,93.86 L314.91,93.49 L315.42,93.12 L315.92,92.75 L316.43,92.38 L316.93,92.02 L317.43,91.67 L317.94,91.31 L318.44,90.96 L318.95,90.62 L319.45,90.28 L319.95,89.94 L320.46,89.60 L320.96,89.27 L321.47,88.95 L321.97,88.62 L322.48,88.30 L322.98,87.99 L323.48,87.68 L323.99,87.37 L324.49,87.07 L325.00,86.77 L325.50,86.47 L326.00,86.18 L326.51,85.89 L327.01,85.60 L327.52,85.32 L328.02,85.05 L328.53,84.77 L329.03,84.50 L329.53,84.24 L330.04,83.98 L330.54,83.72 L331.05,83.47 L331.55,83.22 L332.05,82.97 L332.56,82.73 L333.06,82.49 L333.57,82.26 L334.07,82.03 L334.58,81.80 L335.08,81.58 L335.58,81.36 L336.09,81.15 L336.59,80.94 L337.10,80.73 L337.60,80.53 L338.10,80.33 L338.61,80.13 L339.11,79.94 L339.62,79.76 L340.12,79.58 L340.63,79.40 L341.13,79.23 L341.63,79.06 L342.14,78.89 L342.64,78.73 L343.15,78.57 L343.65,78.42 L344.15,78.27 L344.66,78.12 L345.16,77.98 L345.67,77.85 L346.17,77.72 L346.68,77.59 L347.18,77.47 L347.68,77.35 L348.19,77.23 L348.69,77.12 L349.20,77.02 L349.70,76.91 L350.20,76.82 L350.71,76.72 L351.21,76.64 L351.72,76.55 L352.22,76.47 L352.73,76.40 L353.23,76.33 L353.73,76.26 L354.24,76.20 L354.74,76.14 L355.25,76.09 L355.75,76.04 L356.25,76.00 L356.76,75.96 L357.26,75.93 L357.77,75.90 L358.27,75.88 L358.78,75.86 L359.28,75.84 L359.78,75.83 L360.29,75.83 L360.79,75.83 L361.30,75.83 L361.80,75.84 L362.30,75.85 L362.81,75.87 L363.31,75.89 L363.82,75.92 L364.32,75.96 L364.83,75.99 L365.33,76.04 L365.83,76.08 L366.34,76.14 L366.84,76.19 L367.35,76.26 L367.85,76.32 L368.35,76.39 L368.86,76.47 L369.36,76.55 L369.87,76.64 L370.37,76.73 L370.88,76.82 L371.38,76.93 L371.88,77.03 L372.39,77.14 L372.89,77.26 L373.40,77.38 L373.90,77.50 L374.40,77.63 L374.91,77.76 L375.41,77.90 L375.92,78.05 L376.42,78.20 L376.93,78.35 L377.43,78.51 L377.93,78.67 L378.44,78.84 L378.94,79.01 L379.45,79.18 L379.95,79.37 L380.45,79.55 L380.96,79.74 L381.46,79.94 L381.97,80.14 L382.47,80.34 L382.98,80.55 L383.48,80.76 L383.98,80.98 L384.49,81.20 L384.99,81.43 L385.50,81.66 L386.00,81.89 L386.50,82.13 L387.01,82.38 L387.51,82.63 L388.02,82.88 L388.52,83.14 L389.03,83.40 L389.53,83.66 L390.03,83.93 L390.54,84.21 L391.04,84.49 L391.55,84.77 L392.05,85.06 L392.55,85.35 L393.06,85.64 L393.56,85.94 L394.07,86.25 L394.57,86.56 L395.08,86.87 L395.58,87.19 L396.08,87.51 L396.59,87.83 L397.09,88.16 L397.60,88.49 L398.10,88.83 L398.60,89.17 L399.11,89.52 L399.61,89.87 L400.12,90.22 L400.62,90.58 L401.13,90.94 L401.63,91.31 L402.13,91.68 L402.64,92.06 L403.14,92.43 L403.65,92.82 L404.15,93.20 L404.65,93.59 L405.16,93.99 L405.66,94.39 L406.17,94.79 L406.67,95.20 L407.18,95.61 L407.68,96.02 L408.18,96.44 L408.69,96.86 L409.19,97.29 L409.70,97.72 L410.20,98.16" stroke="#9400d3" stroke-width="1.6" stroke-dasharray="5.8 2.9" fill="none"/>
<path d="M156.10,205.30 L156.60,205.06 L157.11,204.81 L157.61,204.57 L158.12,204.32 L158.62,204.08 L159.13,203.84 L159.63,203.59 L160.13,203.35 L160.64,203.11 L161.14,202.86 L161.65,202.62 L162.15,202.38 L162.65,202.14 L163.16,201.90 L163.66,201.66 L164.17,201.42 L164.67,201.18 L165.18,200.94 L165.68,200.70 L166.18,200.46 L166.69,200.22 L167.19,199.99 L167.70,199.75 L168.20,199.52 L168.70,199.28 L169.21,199.05 L169.71,198.82 L170.22,198.58 L170.72,198.35 L171.23,198.12 L171.73,197.89 L172.23,197.66 L172.74,197.43 L173.24,197.21 L173.75,196.98 L174.25,196.75 L174.75,196.53 L175.26,196.30 L175.76,196.08 L176.27,195.86 L176.77,195.64 L177.28,195.42 L177.78,195.20 L178.28,194.98 L178.79,194.76 L179.29,194.55 L179.80,194.33 L180.30,194.12 L180.80,193.91 L181.31,193.70 L181.81,193.49 L182.32,193.28 L182.82,193.07 L183.33,192.86 L183.83,192.66 L184.33,192.46 L184.84,192.25 L185.34,192.05 L185.85,191.85 L186.35,191.65 L186.85,191.46 L187.36,191.26 L187.86,191.07 L188.37,190.87 L188.87,190.68 L189.38,190.49 L189.88,190.30 L190.38,190.12 L190.89,189.93 L191.39,189.75 L191.90,189.57 L192.40,189.39 L192.90,189.21 L193.41,189.03 L193.91,188.85 L194.42,188.68 L194.92,188.51 L195.43,188.34 L195.93,188.17 L196.43,188.00 L196.94,187.84 L197.44,187.68 L197.95,187.52 L198.45,187.36 L198.95,187.20 L199.46,187.05 L199.96,186.89 L200.47,186.74 L200.97,186.59 L201.48,186.45 L201.98,186.30 L202.48,186.16 L202.99,186.02 L203.49,185.89 L204.00,185.75 L204.50,185.62 L205.00,185.49 L205.51,185.36 L206.01,185.24 L206.52,185.11 L207.02,184.99 L207.53,184.87 L208.03,184.76 L208.53,184.65 L209.04,184.54 L209.54,184.43 L210.05,184.32 L210.55,184.22 L211.05,184.12 L211.56,184.03 L212.06,183.93 L212.57,183.84 L213.07,183.75 L213.58,183.67 L214.08,183.59 L214.58,183.51 L215.09,183.43 L215.59,183.36 L216.10,183.28 L216.60,183.22 L217.10,183.15 L217.61,183.09 L218.11,183.03 L218.62,182.98 L219.12,182.92 L219.63,182.87 L220.13,182.83 L220.63,182.78 L221.14,182.74 L221.64,182.71 L222.15,182.67 L222.65,182.64 L223.15,182.61 L223.66,182.59 L224.16,182.57 L224.67,182.55 L225.17,182.53 L225.68,182.52 L226.18,182.51 L226.68,182.51 L227.19,182.50 L227.69,182.50 L228.20,182.51 L228.70,182.51 L229.20,182.52 L229.71,182.54 L230.21,182.55 L230.72,182.57 L231.22,182.59 L231.73,182.61 L232.23,182.64 L232.73,182.67 L233.24,182.71 L233.74,182.74 L234.25,182.78 L234.75,182.82 L235.25,182.87 L235.76,182.91 L236.26,182.96 L236.77,183.02 L237.27,183.07 L237.78,183.13 L238.28,183.19 L238.78,183.25 L239.29,183.32 L239.79,183.39 L240.30,183.46 L240.80,183.53 L241.30,183.61 L241.81,183.69 L242.31,183.77 L242.82,183.85 L243.32,183.94 L243.83,184.03 L244.33,184.12 L244.83,184.21 L245.34,184.30 L245.84,184.40 L246.35,184.50 L246.85,184.60 L247.35,184.71 L247.86,184.81 L248.36,184.92 L248.87,185.03 L249.37,185.14 L249.88,185.25 L250.38,185.37 L250.88,185.49 L251.39,185.61 L251.89,185.73 L252.40,185.85 L252.90,185.97 L253.40,186.10 L253.91,186.23 L254.41,186.36 L254.92,186.49 L255.42,186.63 L255.93,186.76 L256.43,186.90 L256.93,187.04 L257.44,187.18 L257.94,187.32 L258.45,187.47 L258.95,187.61 L259.45,187.76 L259.96,187.91 L260.46,188.06 L260.97,188.21 L261.47,188.37 L261.98,188.53 L262.48,188.68 L262.98,188.84 L263.49,189.00 L263.99,189.17 L264.50,189.33 L265.00,189.50 L265.50,189.67 L266.01,189.84 L266.51,190.01 L267.02,190.18 L267.52,190.36 L268.03,190.54 L268.53,190.71 L269.03,190.89 L269.54,191.08 L270.04,191.26 L270.55,191.45 L271.05,191.63 L271.55,191.82 L272.06,192.02 L272.56,192.21 L273.07,192.40 L273.57,192.60 L274.08,192.80 L274.58,193.00 L275.08,193.20 L275.59,193.41 L276.09,193.61 L276.60,193.82 L277.10,194.03 L277.60,194.25 L278.11,194.46 L278.61,194.68 L279.12,194.89 L279.62,195.11 L280.13,195.34 L280.63,195.56 L281.13,195.78 L281.64,196.01 L282.14,196.24 L282.65,196.47 L283.15,196.71 L283.65,196.94 L284.16,197.18 L284.66,197.42 L285.17,197.66 L285.67,197.90 L286.18,198.14 L286.68,198.39 L287.18,198.64 L287.69,198.89 L288.19,199.14 L288.70,199.39 L289.20,199.64 L289.70,199.90 L290.21,200.15 L290.71,200.41 L291.22,200.67 L291.72,200.93 L292.23,201.20 L292.73,201.46 L293.23,201.73 L293.74,201.99 L294.24,202.26 L294.75,202.53 L295.25,202.80 L295.75,203.07 L296.26,203.34 L296.76,203.61 L297.27,203.89 L297.77,204.16 L298.28,204.44 L298.78,204.71 L299.28,204.99 L299.79,205.26 L300.29,205.54 L300.80,205.82 L301.30,206.09" stroke="#ff00ff" stroke-width="1.6" stroke-dasharray="4.5 2" fill="none"/>
<path d="M47.20,236.56 L47.70,236.56 L48.21,236.56 L48.71,236.55 L49.22,236.55 L49.72,236.54 L50.23,236.54 L50.73,236.53 L51.23,236.52 L51.74,236.51 L52.24,236.50 L52.75,236.48 L53.25,236.47 L53.75,236.46 L54.26,236.44 L54.76,236.42 L55.27,236.40 L55.77,236.38 L56.28,236.36 L56.78,236.34 L57.28,236.32 L57.79,236.29 L58.29,236.26 L58.80,236.24 L59.30,236.21 L59.80,236.18 L60.31,236.15 L60.81,236.12 L61.32,236.08 L61.82,236.05 L62.33,236.01 L62.83,235.98 L63.33,235.94 L63.84,235.90 L64.34,235.86 L64.85,235.82 L65.35,235.78 L65.85,235.73 L66.36,235.69 L66.86,235.64 L67.37,235.59 L67.87,235.54 L68.38,235.49 L68.88,235.44 L69.38,235.39 L69.89,235.33 L70.39,235.27 L70.90,235.22 L71.40,235.16 L71.90,235.10 L72.41,235.04 L72.91,234.97 L73.42,234.91 L73.92,234.84 L74.43,234.77 L74.93,234.71 L75.43,234.63 L75.94,234.56 L76.44,234.49 L76.95,234.41 L77.45,234.34 L77.95,234.26 L78.46,234.18 L78.96,234.10 L79.47,234.01 L79.97,233.93 L80.48,233.84 L80.98,233.75 L81.48,233.66 L81.99,233.57 L82.49,233.48 L83.00,233.38 L83.50,233.28 L84.00,233.19 L84.51,233.09 L85.01,232.98 L85.52,232.88 L86.02,232.77 L86.53,232.67 L87.03,232.56 L87.53,232.45 L88.04,232.33 L88.54,232.22 L89.05,232.10 L89.55,231.99 L90.05,231.87 L90.56,231.74 L91.06,231.62 L91.57,231.50 L92.07,231.37 L92.58,231.24 L93.08,231.11 L93.58,230.98 L94.09,230.85 L94.59,230.71 L95.10,230.57 L95.60,230.44 L96.10,230.29 L96.61,230.15 L97.11,230.01 L97.62,229.86 L98.12,229.72 L98.63,229.57 L99.13,229.42 L99.63,229.27 L100.14,229.11 L100.64,228.96 L101.15,228.80 L101.65,228.64 L102.15,228.48 L102.66,228.32 L103.16,228.16 L103.67,227.99 L104.17,227.83 L104.68,227.66 L105.18,227.49 L105.68,227.32 L106.19,227.15 L106.69,226.98 L107.20,226.80 L107.70,226.63 L108.20,226.45 L108.71,226.27 L109.21,226.09 L109.72,225.91 L110.22,225.73 L110.73,225.54 L111.23,225.36 L111.73,225.17 L112.24,224.98 L112.74,224.79 L113.25,224.60 L113.75,224.41 L114.25,224.22 L114.76,224.02 L115.26,223.83 L115.77,223.63 L116.27,223.43 L116.78,223.24 L117.28,223.04 L117.78,222.84 L118.29,222.63 L118.79,222.43 L119.30,222.23 L119.80,222.02 L120.30,221.82 L120.81,221.61 L121.31,221.40 L121.82,221.19 L122.32,220.98 L122.83,220.77 L123.33,220.56 L123.83,220.35 L124.34,220.13 L124.84,219.92 L125.35,219.70 L125.85,219.48 L126.35,219.27 L126.86,219.05 L127.36,218.83 L127.87,218.61 L128.37,218.39 L128.88,218.16 L129.38,217.94 L129.88,217.72 L130.39,217.49 L130.89,217.27 L131.40,217.04 L131.90,216.81 L132.40,216.59 L132.91,216.36 L133.41,216.13 L133.92,215.90 L134.42,215.67 L134.93,215.44 L135.43,215.21 L135.93,214.97 L136.44,214.74 L136.94,214.50 L137.45,214.27 L137.95,214.03 L138.45,213.80 L138.96,213.56 L139.46,213.33 L139.97,213.09 L140.47,212.85 L140.98,212.61 L141.48,212.37 L141.98,212.13 L142.49,211.89 L142.99,211.65 L143.50,211.41 L144.00,211.17 L144.50,210.93 L145.01,210.68 L145.51,210.44 L146.02,210.20 L146.52,209.96 L147.03,209.71 L147.53,209.47 L148.03,209.22 L148.54,208.98 L149.04,208.74 L149.55,208.49 L150.05,208.25 L150.55,208.00 L151.06,207.76 L151.56,207.51 L152.07,207.26 L152.57,207.02 L153.08,206.77 L153.58,206.53 L154.08,206.28 L154.59,206.04 L155.09,205.79 L155.60,205.55 L156.10,205.30 L156.60,205.06 L157.11,204.89 L157.61,205.05 L158.12,205.21 L158.62,205.35 L159.13,205.50 L159.63,205.64 L160.13,205.77 L160.64,205.89 L161.14,206.01 L161.65,206.13 L162.15,206.24 L162.65,206.34 L163.16,206.44 L163.66,206.53 L164.17,206.61 L164.67,206.69 L165.18,206.77 L165.68,206.83 L166.18,206.90 L166.69,206.95 L167.19,207.00 L167.70,207.05 L168.20,207.09 L168.70,207.12 L169.21,207.15 L169.71,207.17 L170.22,207.19 L170.72,207.20 L171.23,207.21 L171.73,207.21 L172.23,207.20 L172.74,207.19 L173.24,207.18 L173.75,207.15 L174.25,207.13 L174.75,207.09 L175.26,207.06 L175.76,207.01 L176.27,206.96 L176.77,206.91 L177.28,206.85 L177.78,206.79 L178.28,206.72 L178.79,206.64 L179.29,206.56 L179.80,206.48 L180.30,206.39 L180.80,206.29 L181.31,206.19 L181.81,206.09 L182.32,205.97 L182.82,205.86 L183.33,205.74 L183.83,205.61 L184.33,205.48 L184.84,205.35 L185.34,205.21 L185.85,205.06 L186.35,204.91 L186.85,204.76 L187.36,204.60 L187.86,204.44 L188.37,204.27 L188.87,204.10 L189.38,203.92 L189.88,203.74 L190.38,203.55 L190.89,203.36 L191.39,203.16 L191.90,202.96 L192.40,202.76 L192.90,202.55 L193.41,202.33 L193.91,202.11 L194.42,201.89 L194.92,201.66 L195.43,201.43 L195.93,201.20 L196.43,200.96 L196.94,200.71 L197.44,200.46 L197.95,200.21 L198.45,199.95 L198.95,199.69 L199.46,199.43 L199.96,199.16 L200.47,198.88 L200.97,198.61 L201.48,198.32 L201.98,198.04 L202.48,197.75 L202.99,197.45 L203.49,197.15 L204.00,196.85 L204.50,196.54 L205.00,196.23 L205.51,195.92 L206.01,195.60 L206.52,195.28 L207.02,194.95 L207.53,194.62 L208.03,194.29 L208.53,193.95 L209.04,193.61 L209.54,193.27 L210.05,192.92 L210.55,192.57 L211.05,192.21 L211.56,191.85 L212.06,191.49 L212.57,191.12 L213.07,190.75 L213.58,190.38 L214.08,190.00 L214.58,189.62 L215.09,189.24 L215.59,188.85 L216.10,188.46 L216.60,188.06 L217.10,187.67 L217.61,187.27 L218.11,186.86 L218.62,186.46 L219.12,186.05 L219.63,185.63 L220.13,185.22 L220.63,184.80 L221.14,184.38 L221.64,183.96 L222.15,183.53 L222.65,183.10 L223.15,182.67 L223.66,182.59 L224.16,182.57 L224.67,182.55 L225.17,182.53 L225.68,182.52 L226.18,182.51 L226.68,182.51 L227.19,182.50 L227.69,182.50 L228.20,182.51 L228.70,182.51 L229.20,182.52 L229.71,182.54 L230.21,182.55 L230.72,182.57 L231.22,182.59 L231.73,182.61 L232.23,182.64 L232.73,182.67 L233.24,183.04 L233.74,183.47 L234.25,183.89 L234.75,184.31 L235.25,184.73 L235.76,185.14 L236.26,185.55 L236.77,185.96 L237.27,186.36 L237.78,186.76 L238.28,187.16 L238.78,187.55 L239.29,187.94 L239.79,188.33 L240.30,188.71 L240.80,189.09 L241.30,189.47 L241.81,189.84 L242.31,190.21 L242.82,190.58 L243.32,190.94 L243.83,191.30 L244.33,191.66 L244.83,192.01 L245.34,192.36 L245.84,192.71 L246.35,193.05 L246.85,193.39 L247.35,193.73 L247.86,194.06 L248.36,194.40 L248.87,194.72 L249.37,195.05 L249.88,195.37 L250.38,195.69 L250.88,196.00 L251.39,196.31 L251.89,196.62 L252.40,196.92 L252.90,197.22 L253.40,197.52 L253.91,197.81 L254.41,198.11 L254.92,198.39 L255.42,198.68 L255.93,198.96 L256.43,199.23 L256.93,199.50 L257.44,199.77 L257.94,200.04 L258.45,200.30 L258.95,200.56 L259.45,200.81 L259.96,201.06 L260.46,201.31 L260.97,201.55 L261.47,201.79 L261.98,202.03 L262.48,202.26 L262.98,202.48 L263.49,202.70 L263.99,202.92 L264.50,203.14 L265.00,203.34 L265.50,203.55 L266.01,203.75 L266.51,203.94 L267.02,204.13 L267.52,204.32 L268.03,204.50 L268.53,204.68 L269.03,204.85 L269.54,205.02 L270.04,205.18 L270.55,205.33 L271.05,205.49 L271.55,205.63 L272.06,205.77 L272.56,205.91 L273.07,206.04 L273.57,206.16 L274.08,206.28 L274.58,206.40 L275.08,206.50 L275.59,206.60 L276.09,206.70 L276.60,206.79 L277.10,206.88 L277.60,206.96 L278.11,207.03 L278.61,207.09 L279.12,207.16 L279.62,207.21 L280.13,207.26 L280.63,207.30 L281.13,207.34 L281.64,207.37 L282.14,207.39 L282.65,207.41 L283.15,207.42 L283.65,207.43 L284.16,207.43 L284.66,207.42 L285.17,207.40 L285.67,207.38 L286.18,207.36 L286.68,207.33 L287.18,207.29 L287.69,207.24 L288.19,207.19 L288.70,207.13 L289.20,207.07 L289.70,207.00 L290.21,206.92 L290.71,206.84 L291.22,206.75 L291.72,206.65 L292.23,206.55 L292.73,206.45 L293.23,206.33 L293.74,206.21 L294.24,206.09 L294.75,205.96 L295.25,205.82 L295.75,205.68 L296.26,205.53 L296.76,205.38 L297.27,205.22 L297.77,205.05 L298.28,204.88 L298.78,204.71 L299.28,204.99 L299.79,205.26 L300.29,205.54 L300.80,205.82 L301.30,206.09 L301.80,206.37 L302.31,206.65 L302.81,206.93 L303.32,207.21 L303.82,207.48 L304.33,207.76 L304.83,208.04 L305.33,208.32 L305.84,208.59 L306.34,208.87 L306.85,209.15 L307.35,209.42 L307.85,209.70 L308.36,209.97 L308.86,210.24 L309.37,210.52 L309.87,210.79 L310.38,211.06 L310.88,211.33 L311.38,211.60 L311.89,211.86 L312.39,212.13 L312.90,212.39 L313.40,212.66 L313.90,212.92 L314.41,213.18 L314.91,213.44 L315.42,213.69 L315.92,213.95 L316.43,214.20 L316.93,214.46 L317.43,214.71 L317.94,214.95 L318.44,215.20 L318.95,215.45 L319.45,215.69 L319.95,215.93 L320.46,216.17 L320.96,216.40 L321.47,216.64 L321.97,216.87 L322.48,217.10 L322.98,217.33 L323.48,217.56 L323.99,217.78 L324.49,218.00 L325.00,218.22 L325.50,218.44 L326.00,218.66 L326.51,218.87 L327.01,219.08 L327.52,219.29 L328.02,219.49 L328.53,219.70 L329.03,219.90 L329.53,220.10 L330.04,220.30 L330.54,220.49 L331.05,220.69 L331.55,220.88 L332.05,221.07 L332.56,221.26 L333.06,221.44 L333.57,221.62 L334.07,221.80 L334.58,221.98 L335.08,222.16 L335.58,222.34 L336.09,222.51 L336.59,222.68 L337.10,222.85 L337.60,223.02 L338.10,223.19 L338.61,223.35 L339.11,223.51 L339.62,223.67 L340.12,223.83 L340.63,223.99 L341.13,224.15 L341.63,224.30 L342.14,224.46 L342.64,224.61 L343.15,224.76 L343.65,224.91 L344.15,225.06 L344.66,225.21 L345.16,225.35 L345.67,225.50 L346.17,225.64 L346.68,225.79 L347.18,225.93 L347.68,226.07 L348.19,226.21 L348.69,226.35 L349.20,226.49 L349.70,226.62 L350.20,226.76 L350.71,226.90 L351.21,227.03 L351.72,227.16 L352.22,227.30 L352.73,227.43 L353.23,227.56 L353.73,227.70 L354.24,227.83 L354.74,227.96 L355.25,228.09 L355.75,228.22 L356.25,228.35 L356.76,228.48 L357.26,228.60 L357.77,228.73 L358.27,228.86 L358.78,228.98 L359.28,229.11 L359.78,229.24 L360.29,229.36 L360.79,229.49 L361.30,229.61 L361.80,229.73 L362.30,229.86 L362.81,229.98 L363.31,230.10 L363.82,230.22 L364.32,230.35 L364.83,230.47 L365.33,230.59 L365.83,230.71 L366.34,230.83 L366.84,230.94 L367.35,231.06 L367.85,231.18 L368.35,231.30 L368.86,231.41 L369.36,231.53 L369.87,231.64 L370.37,231.76 L370.88,231.87 L371.38,231.98 L371.88,232.09 L372.39,232.20 L372.89,232.31 L373.40,232.42 L373.90,232.53 L374.40,232.64 L374.91,232.74 L375.41,232.85 L375.92,232.95 L376.42,233.06 L376.93,233.16 L377.43,233.26 L377.93,233.36 L378.44,233.46 L378.94,233.55 L379.45,233.65 L379.95,233.74 L380.45,233.84 L380.96,233.93 L381.46,234.02 L381.97,234.11 L382.47,234.19 L382.98,234.28 L383.48,234.37 L383.98,234.45 L384.49,234.53 L384.99,234.61 L385.50,234.69 L386.00,234.77 L386.50,234.84 L387.01,234.92 L387.51,234.99 L388.02,235.06 L388.52,235.13 L389.03,235.20 L389.53,235.26 L390.03,235.33 L390.54,235.39 L391.04,235.45 L391.55,235.51 L392.05,235.57 L392.55,235.62 L393.06,235.68 L393.56,235.73 L394.07,235.78 L394.57,235.83 L395.08,235.88 L395.58,235.92 L396.08,235.97 L396.59,236.01 L397.09,236.05 L397.60,236.09 L398.10,236.13 L398.60,236.16 L399.11,236.20 L399.61,236.23 L400.12,236.26 L400.62,236.29 L401.13,236.32 L401.63,236.34 L402.13,236.37 L402.64,236.39 L403.14,236.41 L403.65,236.43 L404.15,236.45 L404.65,236.47 L405.16,236.48 L405.66,236.50 L406.17,236.51 L406.67,236.52 L407.18,236.53 L407.68,236.54 L408.18,236.54 L408.69,236.55 L409.19,236.55 L409.70,236.56 L410.20,236.56" stroke="#ff0000" stroke-width="1.9" fill="none"/>
</g>
<rect x="46" y="1" width="1" height="254" fill="#9a9a9a"/>
<rect x="47" y="1" width="1" height="255" fill="#333"/>
<rect x="409" y="1" width="1" height="254" fill="#9a9a9a"/>
<rect x="410" y="1" width="1" height="255" fill="#333"/>
<rect x="48" y="254" width="361" height="1" fill="#aaa"/>
<rect x="46" y="255" width="365" height="1" fill="#333"/>
<rect x="46" y="0" width="1" height="2" fill="#b8b8b8"/>
<rect x="47" y="0" width="364" height="1" fill="#7c7c7c"/>
<rect x="48" y="1" width="361" height="1" fill="#7a7a7a"/>
<g stroke="#1e1e1e" stroke-width="1.05">
<line x1="77.55" y1="255" x2="77.55" y2="251.2" />
<line x1="77.55" y1="1" x2="77.55" y2="4.8" />
<line x1="107.80" y1="255" x2="107.80" y2="248.1" />
<line x1="107.80" y1="1" x2="107.80" y2="8.5" />
<line x1="138.05" y1="255" x2="138.05" y2="251.2" />
<line x1="138.05" y1="1" x2="138.05" y2="4.8" />
<line x1="168.30" y1="255" x2="168.30" y2="248.1" />
<line x1="168.30" y1="1" x2="168.30" y2="8.5" />
<line x1="198.55" y1="255" x2="198.55" y2="251.2" />
<line x1="198.55" y1="1" x2="198.55" y2="4.8" />
<line x1="228.80" y1="255" x2="228.80" y2="248.1" />
<line x1="228.80" y1="1" x2="228.80" y2="8.5" />
<line x1="259.05" y1="255" x2="259.05" y2="251.2" />
<line x1="259.05" y1="1" x2="259.05" y2="4.8" />
<line x1="289.30" y1="255" x2="289.30" y2="248.1" />
<line x1="289.30" y1="1" x2="289.30" y2="8.5" />
<line x1="319.55" y1="255" x2="319.55" y2="251.2" />
<line x1="319.55" y1="1" x2="319.55" y2="4.8" />
<line x1="349.80" y1="255" x2="349.80" y2="248.1" />
<line x1="349.80" y1="1" x2="349.80" y2="8.5" />
<line x1="380.05" y1="255" x2="380.05" y2="251.2" />
<line x1="380.05" y1="1" x2="380.05" y2="4.8" />
<line x1="47.5" y1="251.28" x2="51.0" y2="251.28" />
<line x1="409.9" y1="251.28" x2="406.4" y2="251.28" />
<line x1="47.5" y1="231.40" x2="54.7" y2="231.40" />
<line x1="409.9" y1="231.40" x2="402.7" y2="231.40" />
<line x1="47.5" y1="211.53" x2="51.0" y2="211.53" />
<line x1="409.9" y1="211.53" x2="406.4" y2="211.53" />
<line x1="47.5" y1="191.65" x2="54.7" y2="191.65" />
<line x1="409.9" y1="191.65" x2="402.7" y2="191.65" />
<line x1="47.5" y1="171.78" x2="51.0" y2="171.78" />
<line x1="409.9" y1="171.78" x2="406.4" y2="171.78" />
<line x1="47.5" y1="151.90" x2="54.7" y2="151.90" />
<line x1="409.9" y1="151.90" x2="402.7" y2="151.90" />
<line x1="47.5" y1="132.03" x2="51.0" y2="132.03" />
<line x1="409.9" y1="132.03" x2="406.4" y2="132.03" />
<line x1="47.5" y1="112.15" x2="54.7" y2="112.15" />
<line x1="409.9" y1="112.15" x2="402.7" y2="112.15" />
<line x1="47.5" y1="92.28" x2="51.0" y2="92.28" />
<line x1="409.9" y1="92.28" x2="406.4" y2="92.28" />
<line x1="47.5" y1="72.40" x2="54.7" y2="72.40" />
<line x1="409.9" y1="72.40" x2="402.7" y2="72.40" />
<line x1="47.5" y1="52.52" x2="51.0" y2="52.52" />
<line x1="409.9" y1="52.52" x2="406.4" y2="52.52" />
<line x1="47.5" y1="32.65" x2="54.7" y2="32.65" />
<line x1="409.9" y1="32.65" x2="402.7" y2="32.65" />
<line x1="47.5" y1="12.78" x2="51.0" y2="12.78" />
<line x1="409.9" y1="12.78" x2="406.4" y2="12.78" />
</g>
<text x="47.90" y="270.8" text-anchor="middle">0</text>
<text x="108.40" y="270.8" text-anchor="middle">30</text>
<text x="168.90" y="270.8" text-anchor="middle">60</text>
<text x="229.40" y="270.8" text-anchor="middle">90</text>
<text x="289.90" y="270.8" text-anchor="middle">120</text>
<text x="350.40" y="270.8" text-anchor="middle">150</text>
<text x="409.60" y="270.8" text-anchor="middle">180</text>
<text x="42.8" y="236.05" text-anchor="end">0</text>
<text x="42.8" y="196.30" text-anchor="end">5</text>
<text x="42.8" y="156.55" text-anchor="end">10</text>
<text x="42.8" y="116.80" text-anchor="end">15</text>
<text x="42.8" y="77.05" text-anchor="end">20</text>
<text x="42.8" y="37.30" text-anchor="end">25</text>
<text x="231.5" y="288.1" text-anchor="middle" style="font-size:16.5px">&#952;</text>
<text transform="translate(15.2,180.4) rotate(-90)">energy</text>
<text transform="translate(15.2,130.7) rotate(-90)">[10</text>
<text transform="translate(6.7,111.1) rotate(-90)" style="font-size:9.5px;stroke-width:0.15px">4</text>
<text transform="translate(15.2,106.2) rotate(-90)">J/m</text>
<text transform="translate(7.6,87.0) rotate(-90)" style="font-size:9.5px;stroke-width:0.15px">3</text>
<text transform="translate(15.2,78.7) rotate(-90)">]</text>
</svg>
</body></html>
